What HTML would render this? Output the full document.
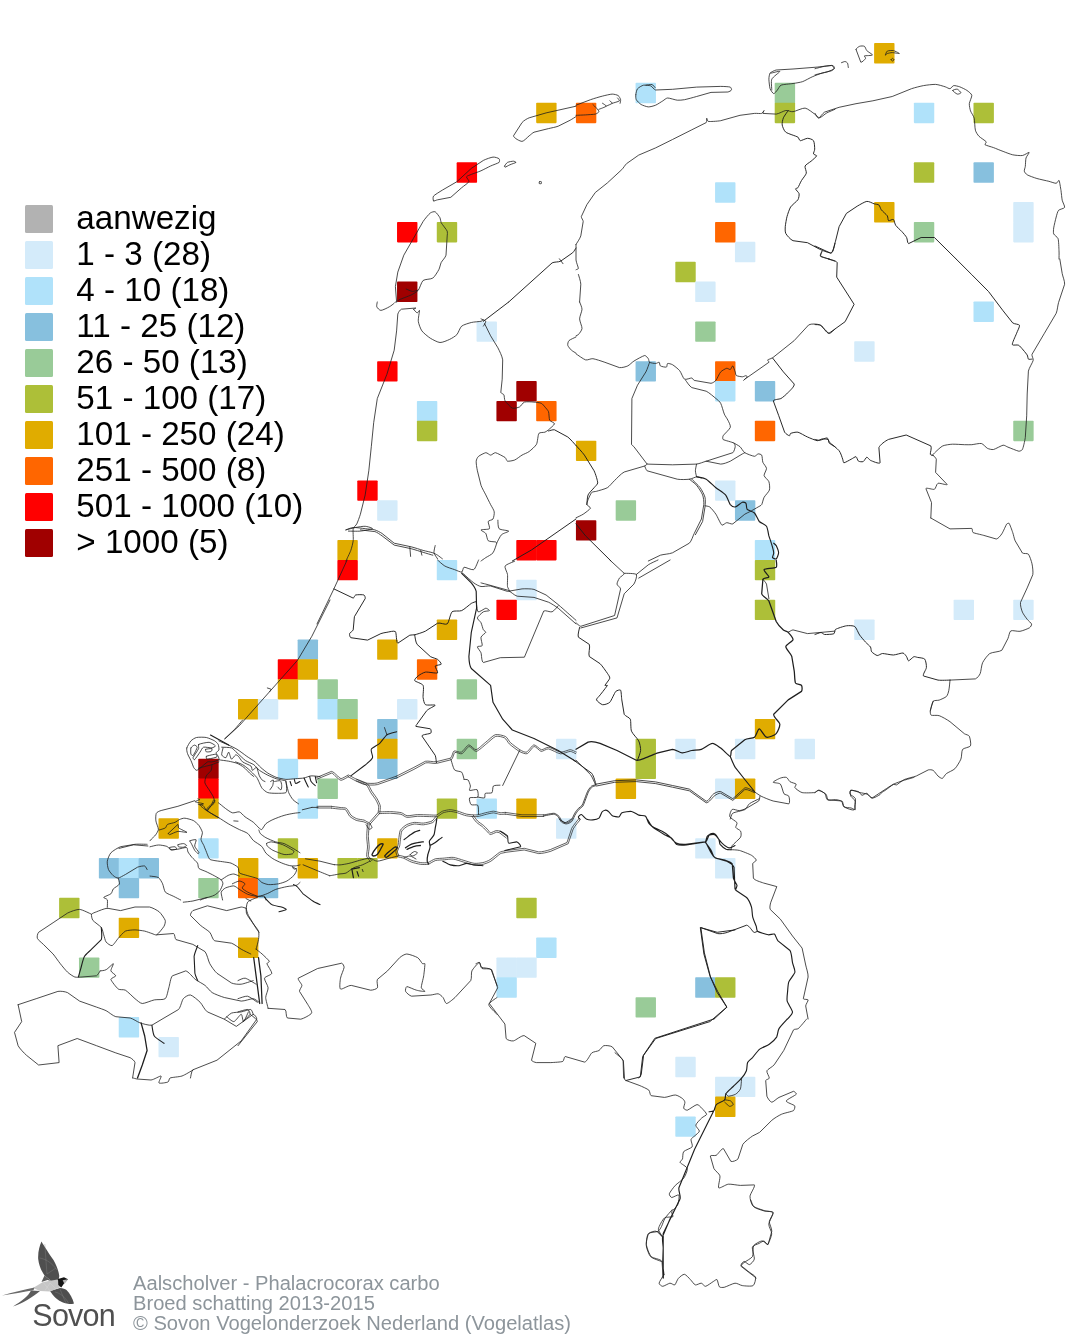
<!DOCTYPE html>
<html><head><meta charset="utf-8"><title>Aalscholver - Phalacrocorax carbo</title>
<style>
html,body{margin:0;padding:0;background:#fff}
body{width:1074px;height:1340px;overflow:hidden;position:relative;font-family:"Liberation Sans",Arial,sans-serif}
svg{position:absolute;left:0;top:0;display:block}
.leg text{font-family:"Liberation Sans",Arial,sans-serif;font-size:33.2px;fill:#000}
.foot text{font-family:"Liberation Sans",Arial,sans-serif;font-size:20.15px;fill:#8d959b}
.sovon{font-family:"Liberation Sans",Arial,sans-serif;font-size:30.5px;fill:#505050;letter-spacing:-0.75px}
</style></head><body>
<svg width="1074" height="1340" viewBox="0 0 1074 1340">
<rect width="1074" height="1340" fill="#fff"/>
<g>
<rect x="874.10" y="43.10" width="20.4" height="20.4" rx="0.8" fill="#e0ac00"/>
<rect x="635.56" y="82.85" width="20.4" height="20.4" rx="0.8" fill="#b0e2fa"/>
<rect x="774.71" y="82.85" width="20.4" height="20.4" rx="0.8" fill="#99cb98"/>
<rect x="536.17" y="102.73" width="20.4" height="20.4" rx="0.8" fill="#e0ac00"/>
<rect x="575.93" y="102.73" width="20.4" height="20.4" rx="0.8" fill="#ff6600"/>
<rect x="774.71" y="102.73" width="20.4" height="20.4" rx="0.8" fill="#adbf38"/>
<rect x="913.85" y="102.73" width="20.4" height="20.4" rx="0.8" fill="#b0e2fa"/>
<rect x="973.49" y="102.73" width="20.4" height="20.4" rx="0.8" fill="#adbf38"/>
<rect x="456.66" y="162.36" width="20.4" height="20.4" rx="0.8" fill="#ff0000"/>
<rect x="913.85" y="162.36" width="20.4" height="20.4" rx="0.8" fill="#adbf38"/>
<rect x="973.49" y="162.36" width="20.4" height="20.4" rx="0.8" fill="#87c0de"/>
<rect x="715.07" y="182.24" width="20.4" height="20.4" rx="0.8" fill="#b0e2fa"/>
<rect x="874.10" y="202.12" width="20.4" height="20.4" rx="0.8" fill="#e0ac00"/>
<rect x="1013.24" y="202.12" width="20.4" height="20.4" rx="0.8" fill="#d4ebfa"/>
<rect x="397.03" y="221.99" width="20.4" height="20.4" rx="0.8" fill="#ff0000"/>
<rect x="436.78" y="221.99" width="20.4" height="20.4" rx="0.8" fill="#adbf38"/>
<rect x="715.07" y="221.99" width="20.4" height="20.4" rx="0.8" fill="#ff6600"/>
<rect x="913.85" y="221.99" width="20.4" height="20.4" rx="0.8" fill="#99cb98"/>
<rect x="1013.24" y="221.99" width="20.4" height="20.4" rx="0.8" fill="#d4ebfa"/>
<rect x="734.95" y="241.87" width="20.4" height="20.4" rx="0.8" fill="#d4ebfa"/>
<rect x="675.32" y="261.75" width="20.4" height="20.4" rx="0.8" fill="#adbf38"/>
<rect x="397.03" y="281.62" width="20.4" height="20.4" rx="0.8" fill="#a00000"/>
<rect x="695.20" y="281.62" width="20.4" height="20.4" rx="0.8" fill="#d4ebfa"/>
<rect x="973.49" y="301.50" width="20.4" height="20.4" rx="0.8" fill="#b0e2fa"/>
<rect x="476.54" y="321.38" width="20.4" height="20.4" rx="0.8" fill="#d4ebfa"/>
<rect x="695.20" y="321.38" width="20.4" height="20.4" rx="0.8" fill="#99cb98"/>
<rect x="854.22" y="341.25" width="20.4" height="20.4" rx="0.8" fill="#d4ebfa"/>
<rect x="377.15" y="361.13" width="20.4" height="20.4" rx="0.8" fill="#ff0000"/>
<rect x="635.56" y="361.13" width="20.4" height="20.4" rx="0.8" fill="#87c0de"/>
<rect x="715.07" y="361.13" width="20.4" height="20.4" rx="0.8" fill="#ff6600"/>
<rect x="516.29" y="381.01" width="20.4" height="20.4" rx="0.8" fill="#a00000"/>
<rect x="715.07" y="381.01" width="20.4" height="20.4" rx="0.8" fill="#b0e2fa"/>
<rect x="754.83" y="381.01" width="20.4" height="20.4" rx="0.8" fill="#87c0de"/>
<rect x="416.90" y="400.89" width="20.4" height="20.4" rx="0.8" fill="#b0e2fa"/>
<rect x="496.42" y="400.89" width="20.4" height="20.4" rx="0.8" fill="#a00000"/>
<rect x="536.17" y="400.89" width="20.4" height="20.4" rx="0.8" fill="#ff6600"/>
<rect x="416.90" y="420.76" width="20.4" height="20.4" rx="0.8" fill="#adbf38"/>
<rect x="754.83" y="420.76" width="20.4" height="20.4" rx="0.8" fill="#ff6600"/>
<rect x="1013.24" y="420.76" width="20.4" height="20.4" rx="0.8" fill="#99cb98"/>
<rect x="575.93" y="440.64" width="20.4" height="20.4" rx="0.8" fill="#e0ac00"/>
<rect x="357.27" y="480.39" width="20.4" height="20.4" rx="0.8" fill="#ff0000"/>
<rect x="715.07" y="480.39" width="20.4" height="20.4" rx="0.8" fill="#d4ebfa"/>
<rect x="377.15" y="500.27" width="20.4" height="20.4" rx="0.8" fill="#d4ebfa"/>
<rect x="615.68" y="500.27" width="20.4" height="20.4" rx="0.8" fill="#99cb98"/>
<rect x="734.95" y="500.27" width="20.4" height="20.4" rx="0.8" fill="#87c0de"/>
<rect x="575.93" y="520.15" width="20.4" height="20.4" rx="0.8" fill="#a00000"/>
<rect x="337.39" y="540.02" width="20.4" height="20.4" rx="0.8" fill="#e0ac00"/>
<rect x="516.29" y="540.02" width="20.4" height="20.4" rx="0.8" fill="#ff0000"/>
<rect x="536.17" y="540.02" width="20.4" height="20.4" rx="0.8" fill="#ff0000"/>
<rect x="754.83" y="540.02" width="20.4" height="20.4" rx="0.8" fill="#b0e2fa"/>
<rect x="337.39" y="559.90" width="20.4" height="20.4" rx="0.8" fill="#ff0000"/>
<rect x="436.78" y="559.90" width="20.4" height="20.4" rx="0.8" fill="#b0e2fa"/>
<rect x="754.83" y="559.90" width="20.4" height="20.4" rx="0.8" fill="#adbf38"/>
<rect x="516.29" y="579.78" width="20.4" height="20.4" rx="0.8" fill="#d4ebfa"/>
<rect x="496.42" y="599.66" width="20.4" height="20.4" rx="0.8" fill="#ff0000"/>
<rect x="754.83" y="599.66" width="20.4" height="20.4" rx="0.8" fill="#adbf38"/>
<rect x="953.61" y="599.66" width="20.4" height="20.4" rx="0.8" fill="#d4ebfa"/>
<rect x="1013.24" y="599.66" width="20.4" height="20.4" rx="0.8" fill="#d4ebfa"/>
<rect x="436.78" y="619.53" width="20.4" height="20.4" rx="0.8" fill="#e0ac00"/>
<rect x="854.22" y="619.53" width="20.4" height="20.4" rx="0.8" fill="#d4ebfa"/>
<rect x="297.64" y="639.41" width="20.4" height="20.4" rx="0.8" fill="#87c0de"/>
<rect x="377.15" y="639.41" width="20.4" height="20.4" rx="0.8" fill="#e0ac00"/>
<rect x="277.76" y="659.29" width="20.4" height="20.4" rx="0.8" fill="#ff0000"/>
<rect x="297.64" y="659.29" width="20.4" height="20.4" rx="0.8" fill="#e0ac00"/>
<rect x="416.90" y="659.29" width="20.4" height="20.4" rx="0.8" fill="#ff6600"/>
<rect x="277.76" y="679.16" width="20.4" height="20.4" rx="0.8" fill="#e0ac00"/>
<rect x="317.51" y="679.16" width="20.4" height="20.4" rx="0.8" fill="#99cb98"/>
<rect x="456.66" y="679.16" width="20.4" height="20.4" rx="0.8" fill="#99cb98"/>
<rect x="238.00" y="699.04" width="20.4" height="20.4" rx="0.8" fill="#e0ac00"/>
<rect x="257.88" y="699.04" width="20.4" height="20.4" rx="0.8" fill="#d4ebfa"/>
<rect x="317.51" y="699.04" width="20.4" height="20.4" rx="0.8" fill="#b0e2fa"/>
<rect x="337.39" y="699.04" width="20.4" height="20.4" rx="0.8" fill="#99cb98"/>
<rect x="397.03" y="699.04" width="20.4" height="20.4" rx="0.8" fill="#d4ebfa"/>
<rect x="337.39" y="718.92" width="20.4" height="20.4" rx="0.8" fill="#e0ac00"/>
<rect x="377.15" y="718.92" width="20.4" height="20.4" rx="0.8" fill="#87c0de"/>
<rect x="754.83" y="718.92" width="20.4" height="20.4" rx="0.8" fill="#e0ac00"/>
<rect x="297.64" y="738.79" width="20.4" height="20.4" rx="0.8" fill="#ff6600"/>
<rect x="377.15" y="738.79" width="20.4" height="20.4" rx="0.8" fill="#e0ac00"/>
<rect x="456.66" y="738.79" width="20.4" height="20.4" rx="0.8" fill="#99cb98"/>
<rect x="556.05" y="738.79" width="20.4" height="20.4" rx="0.8" fill="#d4ebfa"/>
<rect x="635.56" y="738.79" width="20.4" height="20.4" rx="0.8" fill="#adbf38"/>
<rect x="675.32" y="738.79" width="20.4" height="20.4" rx="0.8" fill="#d4ebfa"/>
<rect x="734.95" y="738.79" width="20.4" height="20.4" rx="0.8" fill="#d4ebfa"/>
<rect x="794.59" y="738.79" width="20.4" height="20.4" rx="0.8" fill="#d4ebfa"/>
<rect x="198.25" y="758.67" width="20.4" height="20.4" rx="0.8" fill="#a00000"/>
<rect x="277.76" y="758.67" width="20.4" height="20.4" rx="0.8" fill="#b0e2fa"/>
<rect x="377.15" y="758.67" width="20.4" height="20.4" rx="0.8" fill="#87c0de"/>
<rect x="635.56" y="758.67" width="20.4" height="20.4" rx="0.8" fill="#adbf38"/>
<rect x="198.25" y="778.55" width="20.4" height="20.4" rx="0.8" fill="#ff0000"/>
<rect x="317.51" y="778.55" width="20.4" height="20.4" rx="0.8" fill="#99cb98"/>
<rect x="615.68" y="778.55" width="20.4" height="20.4" rx="0.8" fill="#e0ac00"/>
<rect x="715.07" y="778.55" width="20.4" height="20.4" rx="0.8" fill="#d4ebfa"/>
<rect x="734.95" y="778.55" width="20.4" height="20.4" rx="0.8" fill="#e0ac00"/>
<rect x="198.25" y="798.43" width="20.4" height="20.4" rx="0.8" fill="#e0ac00"/>
<rect x="297.64" y="798.43" width="20.4" height="20.4" rx="0.8" fill="#b0e2fa"/>
<rect x="436.78" y="798.43" width="20.4" height="20.4" rx="0.8" fill="#adbf38"/>
<rect x="476.54" y="798.43" width="20.4" height="20.4" rx="0.8" fill="#b0e2fa"/>
<rect x="516.29" y="798.43" width="20.4" height="20.4" rx="0.8" fill="#e0ac00"/>
<rect x="158.49" y="818.30" width="20.4" height="20.4" rx="0.8" fill="#e0ac00"/>
<rect x="556.05" y="818.30" width="20.4" height="20.4" rx="0.8" fill="#d4ebfa"/>
<rect x="198.25" y="838.18" width="20.4" height="20.4" rx="0.8" fill="#b0e2fa"/>
<rect x="277.76" y="838.18" width="20.4" height="20.4" rx="0.8" fill="#adbf38"/>
<rect x="377.15" y="838.18" width="20.4" height="20.4" rx="0.8" fill="#e0ac00"/>
<rect x="695.20" y="838.18" width="20.4" height="20.4" rx="0.8" fill="#d4ebfa"/>
<rect x="98.86" y="858.06" width="20.4" height="20.4" rx="0.8" fill="#87c0de"/>
<rect x="118.73" y="858.06" width="20.4" height="20.4" rx="0.8" fill="#b0e2fa"/>
<rect x="138.61" y="858.06" width="20.4" height="20.4" rx="0.8" fill="#87c0de"/>
<rect x="238.00" y="858.06" width="20.4" height="20.4" rx="0.8" fill="#e0ac00"/>
<rect x="297.64" y="858.06" width="20.4" height="20.4" rx="0.8" fill="#e0ac00"/>
<rect x="337.39" y="858.06" width="20.4" height="20.4" rx="0.8" fill="#adbf38"/>
<rect x="357.27" y="858.06" width="20.4" height="20.4" rx="0.8" fill="#adbf38"/>
<rect x="715.07" y="858.06" width="20.4" height="20.4" rx="0.8" fill="#d4ebfa"/>
<rect x="118.73" y="877.93" width="20.4" height="20.4" rx="0.8" fill="#87c0de"/>
<rect x="198.25" y="877.93" width="20.4" height="20.4" rx="0.8" fill="#99cb98"/>
<rect x="238.00" y="877.93" width="20.4" height="20.4" rx="0.8" fill="#ff6600"/>
<rect x="257.88" y="877.93" width="20.4" height="20.4" rx="0.8" fill="#87c0de"/>
<rect x="59.10" y="897.81" width="20.4" height="20.4" rx="0.8" fill="#adbf38"/>
<rect x="516.29" y="897.81" width="20.4" height="20.4" rx="0.8" fill="#adbf38"/>
<rect x="118.73" y="917.69" width="20.4" height="20.4" rx="0.8" fill="#e0ac00"/>
<rect x="238.00" y="937.56" width="20.4" height="20.4" rx="0.8" fill="#e0ac00"/>
<rect x="536.17" y="937.56" width="20.4" height="20.4" rx="0.8" fill="#b0e2fa"/>
<rect x="78.98" y="957.44" width="20.4" height="20.4" rx="0.8" fill="#99cb98"/>
<rect x="496.42" y="957.44" width="20.4" height="20.4" rx="0.8" fill="#d4ebfa"/>
<rect x="516.29" y="957.44" width="20.4" height="20.4" rx="0.8" fill="#d4ebfa"/>
<rect x="496.42" y="977.32" width="20.4" height="20.4" rx="0.8" fill="#b0e2fa"/>
<rect x="695.20" y="977.32" width="20.4" height="20.4" rx="0.8" fill="#87c0de"/>
<rect x="715.07" y="977.32" width="20.4" height="20.4" rx="0.8" fill="#adbf38"/>
<rect x="635.56" y="997.20" width="20.4" height="20.4" rx="0.8" fill="#99cb98"/>
<rect x="118.73" y="1017.07" width="20.4" height="20.4" rx="0.8" fill="#b0e2fa"/>
<rect x="158.49" y="1036.95" width="20.4" height="20.4" rx="0.8" fill="#d4ebfa"/>
<rect x="675.32" y="1056.83" width="20.4" height="20.4" rx="0.8" fill="#d4ebfa"/>
<rect x="715.07" y="1076.70" width="20.4" height="20.4" rx="0.8" fill="#d4ebfa"/>
<rect x="734.95" y="1076.70" width="20.4" height="20.4" rx="0.8" fill="#d4ebfa"/>
<rect x="715.07" y="1096.58" width="20.4" height="20.4" rx="0.8" fill="#e0ac00"/>
<rect x="675.32" y="1116.46" width="20.4" height="20.4" rx="0.8" fill="#b0e2fa"/>
</g>
<path d="M317.3 779.0L331.6 773.1C332.9 773.1 334.7 775.7 335.8 776.5C336.9 777.4 339.6 780.3 341.1 780.3C342.6 780.3 347.8 777.0 348.7 776.6M316.7 777.5L331.4 771.4C333.1 771.4 335.7 774.3 336.8 775.2C337.9 776.0 339.8 778.6 341.1 778.6C342.4 778.6 347.2 775.5 348.0 775.1M397.0 777.8L413.9 769.4L425.7 762.9C428.4 762.2 433.5 763.8 436.5 763.4L451.3 759.7C453.1 758.5 453.6 753.2 454.9 752.5C456.1 751.8 460.4 754.4 462.0 753.7C463.7 753.0 467.4 746.8 469.1 746.5C470.7 746.3 474.3 751.7 476.3 751.4C478.3 751.1 484.1 745.7 486.3 743.9C488.6 742.2 493.6 737.1 495.7 736.4C497.9 735.7 503.1 737.1 504.7 738.0C506.3 738.9 507.8 742.4 509.3 743.9C511.0 745.5 517.1 750.1 519.1 751.3C521.2 752.4 525.3 754.3 527.1 753.7C528.8 753.2 532.5 746.8 534.2 746.5C535.8 746.2 539.5 751.1 541.1 751.4C542.8 751.6 546.3 748.7 548.4 748.9C550.7 749.2 557.9 753.5 560.5 753.8C563.0 754.1 568.4 751.4 570.2 751.4C571.9 751.4 575.0 753.4 575.7 753.7M396.2 776.3L413.1 767.8L425.3 761.3C428.0 760.6 433.3 762.1 436.3 761.7L450.4 758.2C452.2 757.0 452.8 751.7 454.0 751.0C455.3 750.3 459.6 752.9 461.4 752.1C463.1 751.4 467.1 745.1 468.8 744.9C470.5 744.6 474.1 749.9 476.0 749.7C478.0 749.4 483.1 744.3 485.3 742.6C487.5 740.9 492.8 735.5 495.2 734.7C497.6 734.0 503.7 735.6 505.5 736.5C507.3 737.4 508.8 741.1 510.5 742.7C512.2 744.2 518.1 748.7 520.0 749.8C521.7 750.8 524.9 752.7 526.5 752.1C528.2 751.5 532.2 745.1 533.9 744.9C535.6 744.6 539.7 749.4 541.4 749.7C543.1 750.0 546.5 747.0 548.6 747.3C550.9 747.5 558.1 751.8 560.7 752.1C563.2 752.4 568.4 749.7 570.2 749.7C572.0 749.7 575.6 751.9 576.3 752.1M317.0 808.0L331.5 808.0M317.0 806.3L331.5 806.3M505.0 814.1L521.9 816.5L543.7 816.5M505.2 812.4L522.0 814.8L543.7 814.8M505.0 852.4L524.2 850.0L538.7 853.6C541.8 853.7 547.6 852.3 551.0 851.2L568.2 843.7L573.2 829.0C574.6 826.2 579.5 820.6 580.4 819.5M504.8 850.7L524.3 848.3L538.7 851.9C541.8 852.1 547.2 850.6 550.5 849.5L567.0 842.5L571.7 828.3C573.1 825.5 578.2 819.6 579.0 818.5M356.1 780.8C357.2 781.3 364.6 783.8 366.3 785.1C368.0 786.5 369.5 790.7 370.6 792.4C371.7 794.1 374.8 798.2 375.8 799.8C376.7 801.4 378.4 804.8 378.6 806.2C378.9 807.7 378.2 811.3 378.2 812.0M356.7 779.2C358.0 779.8 365.6 782.4 367.3 783.8C369.1 785.2 370.8 789.7 372.0 791.5C373.2 793.2 376.3 797.3 377.2 798.9C378.2 800.6 380.0 804.4 380.3 805.9C380.6 807.4 379.9 811.4 379.9 812.1M379.1 813.6C380.4 813.6 388.1 813.2 390.6 813.3C393.2 813.4 399.0 813.9 400.9 814.3C402.8 814.8 405.1 817.1 406.9 817.3C408.9 817.6 414.9 816.4 417.5 816.3C420.1 816.2 427.1 816.6 429.4 816.6C431.6 816.6 435.5 817.0 437.1 816.6C438.7 816.1 441.6 813.4 443.1 812.8C444.6 812.2 448.6 811.4 450.2 811.4C451.9 811.4 455.6 812.3 457.5 812.8C459.4 813.4 464.2 815.4 466.5 815.8C468.8 816.3 474.8 816.8 477.1 816.6C479.4 816.4 484.3 814.8 486.2 814.3C488.1 813.9 491.8 812.9 493.4 812.9C495.0 812.9 498.5 814.2 499.9 814.4C501.3 814.5 504.8 814.1 505.4 814.1M379.0 811.9C380.4 811.9 388.1 811.5 390.7 811.6C393.3 811.7 399.4 812.2 401.3 812.7C403.1 813.2 405.3 815.4 407.1 815.7C409.0 815.9 414.8 814.7 417.4 814.6C420.0 814.5 427.2 814.9 429.4 814.9C431.5 814.9 435.1 815.4 436.6 814.9C438.1 814.5 440.9 811.8 442.5 811.2C444.1 810.6 448.4 809.7 450.2 809.7C452.0 809.7 456.0 810.7 457.9 811.2C459.8 811.7 464.6 813.7 466.8 814.2C469.0 814.6 474.8 815.1 477.0 814.9C479.2 814.7 483.9 813.1 485.8 812.7C487.7 812.3 491.8 811.2 493.4 811.2C495.1 811.2 498.7 812.5 500.1 812.7C501.5 812.8 504.7 812.4 505.3 812.4M331.4 808.1C332.4 808.2 338.3 809.0 339.9 809.1C341.5 809.3 344.3 808.9 345.5 809.7C346.6 810.6 348.6 815.1 349.8 816.4C351.1 817.6 354.5 819.6 356.1 820.3C357.7 820.9 362.0 821.4 363.6 821.8C365.3 822.2 368.6 824.6 370.2 824.0L379.7 813.3M331.6 806.4C332.6 806.5 338.4 807.2 340.1 807.5C341.8 807.7 345.2 807.5 346.5 808.4C347.7 809.3 349.8 813.9 351.0 815.2C352.2 816.4 355.2 818.1 356.7 818.7C358.2 819.3 362.6 819.7 364.1 820.1C365.5 820.6 368.1 822.9 369.4 822.5L378.4 812.2M367.5 824.6C367.4 826.0 366.7 834.0 366.7 836.6C366.7 839.2 367.5 844.8 367.5 847.0C367.5 849.3 366.4 854.4 366.7 856.2C367.1 857.9 370.1 861.0 370.6 861.7M369.2 824.7C369.1 826.1 368.4 834.0 368.4 836.6C368.4 839.2 369.2 844.8 369.2 847.0C369.2 849.3 368.1 854.2 368.4 855.8C368.7 857.4 371.6 860.1 372.0 860.7M436.2 815.9C435.7 816.5 433.4 820.1 432.0 821.0C430.5 821.8 425.4 822.9 423.4 823.1C421.3 823.3 416.4 822.2 414.4 822.4C412.5 822.5 408.3 823.8 406.6 824.7C405.0 825.6 401.2 828.5 400.3 830.3C399.4 832.0 399.0 837.7 398.7 839.5C398.5 841.2 398.4 843.9 398.0 845.3C397.7 846.7 395.8 850.2 395.8 851.4C395.7 852.7 397.1 855.7 397.3 856.2M437.5 817.1C436.9 817.7 434.4 821.6 432.8 822.5C431.1 823.4 425.6 824.6 423.5 824.8C421.4 825.0 416.4 823.9 414.6 824.0C412.7 824.2 408.9 825.4 407.5 826.2C406.0 827.0 402.7 829.5 401.8 831.0C401.0 832.6 400.7 838.0 400.4 839.7C400.2 841.4 400.0 844.4 399.7 845.8C399.3 847.1 397.5 850.4 397.5 851.6C397.4 852.7 398.7 855.2 398.9 855.7M397.9 856.8C398.6 857.0 402.2 857.7 403.8 858.3C405.3 858.9 409.3 861.3 411.2 862.0C413.2 862.7 418.4 864.0 420.3 864.3C422.3 864.5 426.3 864.7 428.1 864.3C429.9 863.8 433.7 861.0 435.6 860.5C437.5 860.0 442.3 860.0 444.4 859.8C446.4 859.6 450.9 858.8 453.1 859.1C455.3 859.3 461.0 861.3 463.4 862.0C465.8 862.7 471.7 864.8 474.0 865.0C476.3 865.3 481.2 864.7 483.2 864.3C485.2 863.8 488.9 862.4 490.9 861.2C492.9 859.9 498.8 854.7 500.4 853.7C501.6 853.1 504.3 852.8 504.8 852.6M398.3 855.2C399.0 855.3 402.8 856.1 404.4 856.7C405.9 857.3 409.9 859.7 411.8 860.4C413.7 861.1 418.7 862.3 420.6 862.6C422.4 862.8 426.0 863.0 427.7 862.6C429.4 862.2 433.2 859.4 435.1 858.9C437.0 858.4 442.1 858.3 444.2 858.1C446.3 857.9 451.0 857.1 453.3 857.4C455.6 857.6 461.5 859.7 463.9 860.4C466.3 861.1 472.0 863.1 474.2 863.3C476.4 863.6 481.0 863.0 482.8 862.6C484.7 862.2 488.1 860.9 490.0 859.7C492.0 858.5 497.9 853.3 499.6 852.3C500.8 851.6 503.8 851.1 504.4 851.0M471.9 816.3C472.4 817.0 475.2 821.1 476.5 822.3C477.7 823.5 481.2 825.8 482.5 826.8C483.7 827.9 486.0 830.4 486.9 831.3C487.8 832.1 489.3 834.4 490.4 834.5C491.5 834.6 495.5 832.4 496.6 832.2C497.4 832.1 498.8 832.5 499.6 832.9C500.7 833.6 505.5 837.4 506.3 838.0M473.3 815.2C473.8 815.9 476.5 819.9 477.7 821.1C478.9 822.3 482.4 824.5 483.6 825.5C484.8 826.6 487.3 829.2 488.1 830.1C488.8 830.8 489.7 832.7 490.5 832.8C491.5 832.8 495.1 830.7 496.3 830.6C497.4 830.4 499.4 830.9 500.4 831.4C501.7 832.1 506.6 836.1 507.4 836.7M347.9 776.5C348.8 777.0 353.6 779.8 355.6 780.8C357.6 781.7 362.5 784.2 365.1 784.6C367.6 785.1 374.0 785.4 377.5 784.6L396.9 777.8M348.7 775.1C349.6 775.5 354.4 778.3 356.4 779.2C358.3 780.2 362.9 782.5 365.3 783.0C367.8 783.4 373.8 783.7 377.1 783.0L396.3 776.2" fill="none" stroke="#1e1e1e" stroke-width="0.7" stroke-linejoin="round" stroke-linecap="round"/>
<path d="M433.5 201.0C433.0 200.5 432.8 197.2 433.5 196.1C434.5 194.9 439.7 191.8 442.4 190.1L456.9 181.7L471.3 168.4L483.4 160.4C485.9 159.1 491.2 157.3 493.0 157.1C494.8 156.9 498.4 158.1 499.1 158.8C499.7 159.3 499.7 161.7 499.1 162.4C498.1 163.2 492.7 165.0 490.6 166.0C488.5 167.0 483.2 169.8 481.0 170.8C478.7 171.8 473.0 173.7 471.3 174.4C469.9 175.0 466.8 176.0 466.5 176.8C466.2 177.7 469.4 180.5 468.9 181.7C468.4 182.9 463.8 185.9 461.7 187.7L450.8 197.3L437.6 199.8C436.4 200.0 434.0 201.4 433.5 201.0M396.6 302.0L395.4 286.6L397.8 272.1L403.8 255.2L413.5 238.3L423.1 221.5C424.9 218.8 428.9 214.1 430.3 213.0C431.5 212.2 434.1 211.3 435.2 211.8C436.3 212.4 439.3 216.6 440.0 217.8C440.7 219.1 440.5 221.4 441.2 222.7C442.0 224.2 446.5 229.6 447.2 231.1C447.7 232.4 447.3 234.5 447.2 235.9L446.0 255.2C445.4 257.6 442.0 260.8 441.2 262.5C440.4 264.1 439.8 267.9 438.8 269.7C437.8 271.5 434.6 276.9 432.8 278.1C430.9 279.4 424.8 279.1 423.1 280.5C421.4 281.9 419.7 288.5 418.3 290.2C416.9 291.9 413.3 293.9 411.1 295.0C408.8 296.1 400.7 299.0 399.0 299.8C398.2 300.3 396.9 302.3 396.6 302.0M406.2 289.0C406.9 289.3 410.9 291.2 412.3 291.4C413.6 291.5 417.2 290.3 417.8 290.2M576.0 106.2L546.1 112.9L529.2 117.8C526.9 118.7 523.6 120.7 522.0 122.6L513.5 135.8C513.6 138.0 520.2 141.4 522.0 141.4C523.8 141.4 527.8 136.9 529.2 135.8C530.6 134.8 532.5 132.9 534.0 132.2L548.5 128.6C551.3 127.9 555.6 127.2 558.2 126.2L570.2 120.2C572.0 119.2 575.3 117.0 576.0 116.6M504.6 166.0C504.9 165.4 506.5 162.9 507.5 162.4C508.6 161.8 512.6 161.2 513.5 161.2C514.3 161.2 516.1 162.1 516.0 162.4C515.5 162.8 511.2 164.2 509.9 164.8C508.7 165.3 505.7 167.1 505.1 167.2C504.8 167.2 504.5 166.3 504.6 166.0M539.3 181.7C539.6 181.4 541.0 181.4 541.3 181.7C541.5 181.9 541.5 183.4 541.3 183.6C541.0 183.8 539.6 183.8 539.3 183.6C539.1 183.4 539.1 181.9 539.3 181.7M559.4 258.8L563.0 263.7M576.0 105.2L590.5 99.7C593.6 98.6 600.0 96.7 602.5 96.1C605.1 95.4 610.3 94.2 612.2 94.1C613.9 94.1 617.2 94.9 618.2 95.6C619.2 96.2 620.4 98.8 620.6 99.7C620.8 100.6 620.2 102.9 620.1 103.3M576.0 115.3C577.1 115.3 583.4 115.0 585.6 114.9C587.9 114.7 593.7 114.5 595.3 114.1C596.5 113.8 598.8 112.4 598.9 111.7C599.1 111.0 597.2 109.0 596.5 108.1C595.8 107.3 593.3 104.9 592.9 104.5M598.9 109.3C599.8 109.0 605.7 106.9 606.1 106.2C606.5 105.5 602.9 103.6 602.5 103.3M606.1 106.2C606.8 105.8 611.8 103.9 612.2 103.3C612.4 102.7 610.0 101.2 609.8 100.9M612.2 103.3C613.0 103.0 618.8 101.5 619.4 100.9C619.8 100.3 617.7 98.3 617.5 98.0M635.8 94.8C635.9 93.6 636.6 89.9 637.5 88.8C638.4 87.7 642.0 85.5 643.5 85.2C645.1 84.9 649.4 85.4 650.8 85.9C652.2 86.5 653.9 89.6 655.6 90.0L672.5 89.3L696.6 87.1L720.7 86.4C723.5 86.4 729.1 86.7 730.3 87.1C731.0 87.5 731.8 89.5 731.5 90.0C731.3 90.6 729.1 91.7 727.9 92.0L711.0 92.4L696.6 96.5C693.5 97.4 686.8 99.2 684.5 99.7C682.4 100.0 679.3 100.4 677.3 100.2C675.3 100.0 669.3 97.9 667.6 98.0C666.1 98.1 664.2 100.0 662.8 100.9C661.4 101.7 657.3 104.5 655.6 105.2C653.9 105.9 650.0 107.0 648.3 106.9C646.7 106.8 642.5 105.3 641.1 104.5C639.7 103.7 636.9 100.8 636.3 99.7C635.7 98.5 635.7 96.1 635.8 94.8M645.9 85.2C646.6 85.1 650.9 84.2 652.0 84.5C653.0 84.8 654.7 87.2 655.1 87.6M770.1 73.1C771.0 72.1 774.3 70.4 776.2 70.0L793.0 69.0L817.2 67.1L831.6 65.4C832.6 65.7 834.0 67.7 834.0 68.3C834.0 68.9 832.5 70.3 831.6 70.7C830.2 71.3 824.2 72.4 822.0 73.1C819.7 73.8 814.6 75.8 812.3 76.8C810.1 77.7 804.9 80.8 802.7 81.6C800.4 82.4 795.6 83.1 793.0 83.5C790.5 83.9 782.8 84.4 781.0 85.2C779.5 85.9 778.2 89.0 777.4 90.0C776.5 91.0 774.6 93.8 773.7 93.6C772.9 93.5 770.7 90.4 770.1 88.8C769.6 87.1 768.9 81.0 768.9 79.2C768.9 77.4 769.3 74.2 770.1 73.1M771.3 73.1C772.3 72.9 779.7 70.8 779.8 71.5C779.8 72.2 772.7 77.0 771.8 79.2C770.9 81.3 771.8 88.8 771.8 90.0M576.0 244.4C576.6 243.4 580.0 238.6 580.8 235.9L583.2 221.5C583.2 220.0 581.2 218.0 581.3 216.6L586.9 204.6L595.3 192.5L607.4 182.9L621.8 169.6C623.4 168.0 625.0 165.1 626.6 163.6L638.7 155.1L655.6 147.9L672.5 139.5L691.8 129.8L706.2 122.6C707.0 121.7 706.5 118.4 706.7 118.2C706.9 118.1 707.4 121.0 708.2 121.4C709.8 121.7 717.1 121.3 720.7 120.7L740.0 115.3L754.5 113.4C756.6 113.2 760.6 113.8 761.7 113.4C762.6 113.1 764.0 110.5 764.1 110.5C764.2 110.5 762.5 113.0 762.9 113.4L776.2 114.1C778.8 113.8 783.8 110.8 785.8 110.5C787.8 110.2 791.0 112.0 793.0 111.7C795.3 111.4 802.6 107.8 805.1 108.1C807.6 108.4 813.1 113.0 814.7 114.1C816.2 115.1 818.2 117.9 819.6 117.8C821.0 117.6 825.0 113.9 826.8 112.9C828.6 112.0 834.0 109.7 835.0 109.3M822.0 251.6C821.8 252.2 820.1 255.6 820.8 256.4L835.0 261.2M576.0 244.4L576.0 260.0C576.3 262.6 578.4 267.4 578.4 268.5C578.3 269.1 576.3 269.5 576.0 269.7M578.4 274.5C578.7 275.6 580.7 281.3 580.8 284.2L579.6 302.0M815.0 68.7C816.1 68.4 822.5 66.7 824.6 66.3C826.8 66.0 832.0 65.3 833.1 65.6C833.8 65.9 834.7 68.1 834.3 68.7C833.6 69.5 829.2 71.2 827.1 71.9C824.8 72.6 816.4 74.4 815.0 74.8M841.5 62.7C841.9 62.6 844.4 61.4 845.1 61.5C845.8 61.6 847.2 62.5 847.6 63.2C847.9 63.9 848.2 67.0 848.3 67.5M856.0 49.4C856.1 48.3 858.6 46.7 859.6 46.3C860.6 45.9 863.6 45.8 864.4 46.3C865.3 46.8 865.9 49.6 866.8 50.6C867.8 51.7 872.7 54.4 872.4 55.0C872.1 55.6 865.2 55.6 864.4 55.9C864.1 56.3 865.9 57.8 865.6 58.4C865.2 59.1 861.8 62.8 860.8 62.2L856.0 49.4M885.4 55.0C885.4 54.7 886.4 51.6 887.3 51.1C888.3 50.6 892.0 50.4 893.4 50.6C894.8 50.9 899.5 53.3 899.4 53.5C899.3 53.8 893.6 52.6 892.2 52.6C890.8 52.6 888.1 53.3 887.3 53.5C886.7 53.8 885.5 55.2 885.4 55.0M891.0 59.6C891.0 59.3 892.3 58.3 892.7 58.4C893.0 58.4 894.1 59.5 894.1 59.8C894.1 60.1 892.8 61.0 892.4 61.0C892.0 61.0 890.9 59.9 891.0 59.6M815.0 113.3C815.4 113.9 817.5 118.3 818.6 118.2C819.7 118.0 822.5 113.3 824.6 112.1L839.1 107.3L856.0 103.7L872.9 100.8L892.2 96.5L911.5 88.7C914.9 87.6 920.7 86.1 923.5 85.6C926.3 85.1 933.0 84.3 935.6 84.4C938.1 84.5 943.5 86.3 945.2 86.8C946.7 87.3 949.1 88.9 950.0 88.7C951.0 88.6 952.5 85.8 953.7 85.6C954.8 85.4 958.1 86.3 959.7 86.8C961.2 87.4 965.5 89.4 966.9 90.4C968.3 91.4 971.5 93.7 971.8 95.3C972.0 96.8 969.5 101.9 969.3 103.7C969.2 105.5 970.0 109.2 970.5 110.9C971.1 112.6 973.6 115.9 974.2 118.2C974.7 120.4 974.8 128.1 975.4 130.2C975.9 132.2 977.7 134.9 979.0 136.3C980.3 137.6 985.5 140.8 986.2 141.8C986.5 142.5 984.6 144.2 985.0 144.7C985.9 145.4 991.3 146.8 993.5 147.6C995.6 148.4 1000.8 150.6 1003.1 151.4C1005.4 152.3 1010.5 154.3 1012.7 154.8C1015.0 155.3 1020.5 155.8 1022.4 155.5C1024.3 155.3 1028.7 152.1 1029.1 152.4C1029.6 152.7 1026.5 156.3 1026.0 158.0C1025.6 159.6 1025.5 164.8 1025.3 166.4C1025.1 167.8 1024.1 170.2 1024.3 171.2C1024.5 172.2 1026.1 174.1 1027.2 174.8C1028.7 175.7 1034.3 177.7 1036.9 178.5C1039.4 179.2 1046.7 180.8 1048.9 181.3C1051.0 181.9 1055.0 183.4 1056.2 183.3C1057.2 183.1 1058.6 180.0 1059.0 180.4C1059.6 181.2 1060.6 188.2 1061.0 190.5C1061.3 192.8 1061.8 198.2 1062.2 200.2C1062.6 202.1 1065.0 206.2 1064.6 207.4C1064.2 208.6 1059.6 209.2 1058.6 210.3C1057.6 211.4 1056.7 215.0 1056.2 217.0C1055.6 219.1 1054.0 225.9 1053.7 227.9C1053.5 229.6 1053.2 232.7 1053.7 233.9C1054.2 235.2 1057.5 237.0 1058.1 238.7C1058.7 240.7 1058.9 248.4 1059.0 250.8C1059.2 253.2 1059.0 258.0 1059.0 259.0M952.5 90.4C952.5 89.9 956.3 88.9 957.3 89.2C958.3 89.5 960.9 92.3 960.9 92.8C960.9 93.4 958.2 94.3 957.3 94.1C956.3 93.8 952.5 91.0 952.5 90.4M822.2 250.8C822.0 251.4 819.6 255.2 820.3 256.1C821.1 257.1 828.4 258.7 829.5 259.0M1059.8 259.0L1062.2 273.5C1062.7 276.4 1064.9 281.2 1064.6 284.3L1058.6 302.4C1057.7 305.5 1057.4 310.3 1056.2 313.3L1044.1 333.8L1032.0 354.3C1031.6 355.9 1033.5 358.6 1033.2 360.3C1032.8 362.3 1029.1 367.8 1028.4 371.1L1027.2 394.0L1026.7 415.8L1025.3 437.5C1024.8 441.0 1023.2 447.9 1022.4 449.5C1021.8 450.4 1019.9 451.3 1018.8 451.2C1017.1 450.9 1009.8 447.8 1007.9 447.1C1006.5 446.6 1004.5 445.0 1003.1 445.2C1001.4 445.5 995.3 449.1 993.5 449.5C991.8 449.8 988.8 449.0 987.4 448.3C986.0 447.6 983.2 443.9 981.4 443.5C979.6 443.1 973.7 444.5 971.8 444.7C969.8 444.8 966.6 444.7 964.5 444.7C962.3 444.6 955.0 444.1 952.5 444.2C949.9 444.3 944.8 445.0 942.8 445.9C940.8 446.8 936.8 450.8 935.6 451.9C934.5 452.9 932.4 455.1 932.0 455.5M933.2 455.5C933.5 456.0 936.0 457.9 936.3 459.2L935.6 472.4L947.2 484.5C947.2 485.5 939.5 482.7 938.0 483.3C936.5 483.8 935.8 488.7 934.4 489.3C933.0 489.9 926.4 487.3 925.9 488.6L931.5 502.6L930.8 518.0M930.8 518.0L950.0 528.9L971.8 528.4C972.6 528.8 972.1 531.8 973.0 532.5C974.4 533.3 981.1 534.6 983.8 535.4L996.3 539.0C998.3 538.7 1000.7 535.4 1001.9 533.7C1003.1 531.9 1005.9 525.2 1006.7 524.0C1007.2 523.6 1008.7 523.0 1009.1 523.3C1009.8 524.3 1012.0 530.4 1012.7 532.5C1013.5 534.5 1014.1 538.6 1015.2 540.9L1022.4 553.0C1023.6 554.0 1027.3 553.0 1028.4 554.2C1029.5 555.4 1031.5 561.4 1032.0 563.8C1032.5 566.2 1033.3 571.9 1032.8 574.7L1027.2 587.9L1020.5 602.4C1020.0 605.1 1021.6 610.1 1022.4 612.1C1023.2 614.0 1026.1 617.9 1027.2 619.3C1028.3 620.7 1031.3 623.1 1031.6 624.1C1031.8 625.1 1030.5 627.1 1029.6 627.7C1028.3 628.6 1022.2 631.0 1020.0 631.3C1017.8 631.7 1012.2 630.0 1010.8 630.9C1009.4 631.7 1008.9 636.4 1007.9 638.6L1001.9 650.2C999.8 651.9 992.1 652.1 989.8 653.5C987.6 655.0 983.7 660.4 982.6 662.7C981.5 665.0 981.0 671.7 980.2 673.5C979.4 675.4 977.2 678.2 975.4 678.9L950.0 680.1M950.0 680.1C949.9 681.3 949.3 688.5 948.8 690.4C948.4 692.3 947.6 695.3 946.4 696.5C945.3 697.6 940.7 699.5 939.2 700.1C937.6 700.6 934.2 700.1 933.2 701.3C932.1 702.5 930.6 709.8 930.3 710.9M933.2 701.2C932.8 702.3 930.5 709.2 930.3 710.9C930.2 712.1 930.3 714.6 931.2 715.2C932.3 715.8 937.0 714.9 939.2 715.7C941.4 716.4 947.1 719.6 950.0 721.7L964.5 733.8C965.8 734.6 968.7 735.0 969.3 736.2C970.0 737.6 971.3 744.3 970.5 745.8C969.8 747.4 963.7 747.9 962.6 749.4C961.5 751.0 961.8 756.8 960.9 759.1C960.0 761.3 956.6 767.0 954.9 768.7C953.2 770.4 947.9 772.4 946.4 773.6C945.0 774.7 943.3 778.1 942.3 778.4C941.3 778.7 939.1 776.9 938.0 776.0C936.9 775.0 934.3 771.1 933.2 770.4C932.0 769.7 929.7 769.6 928.3 769.9L916.3 776.0C913.5 777.1 906.5 778.5 904.2 779.6C901.9 780.6 897.8 784.3 896.5 784.9C895.7 785.1 894.2 784.1 893.4 784.4C892.2 785.0 887.5 788.7 886.1 789.7C884.8 790.7 882.0 792.3 881.3 792.8C880.9 793.2 880.6 794.2 880.1 794.5C879.1 795.2 873.9 798.3 872.4 798.1C870.8 798.0 868.1 793.7 866.8 793.3C865.6 793.0 863.0 795.5 862.0 795.3C861.0 795.1 859.7 792.2 858.4 791.6C857.1 791.1 851.7 790.2 850.7 790.4C850.0 790.8 849.6 793.2 850.0 794.1C850.5 795.0 854.7 797.0 855.3 798.4C855.8 799.8 854.8 804.8 854.8 806.1C854.8 807.2 855.7 809.5 855.3 809.7C854.9 810.0 852.4 808.4 851.2 808.0C849.9 807.7 845.1 807.6 843.9 806.8C842.8 806.0 842.5 802.1 841.5 801.3C840.5 800.4 837.0 799.7 835.5 799.6C834.0 799.5 829.4 800.7 828.3 800.1C827.1 799.4 827.0 795.2 825.9 794.1C824.7 792.9 819.9 790.6 818.6 790.4C817.5 790.4 815.4 792.6 815.0 792.8M579.6 302.0C579.9 302.8 582.0 307.3 582.0 309.2C582.0 311.2 579.6 316.6 579.6 318.9C579.6 321.1 582.2 326.7 582.0 328.5C581.9 330.4 579.1 333.7 578.4 334.6C577.9 335.1 576.3 335.6 576.0 335.8M576.0 353.8C577.1 354.6 583.7 359.3 585.6 359.9C587.6 360.4 590.8 358.4 592.9 358.7C595.1 359.0 601.8 361.2 604.9 362.3L619.4 367.6C621.8 367.9 626.2 366.7 627.8 365.9C629.5 365.1 632.0 362.3 633.9 361.1C635.8 359.9 643.0 355.8 644.7 355.5C645.9 355.5 647.8 357.9 648.3 358.7C648.9 359.5 648.8 361.7 649.6 362.3C650.4 362.9 654.5 363.5 655.6 363.5C656.7 363.5 658.6 362.0 659.2 362.3C659.8 362.6 659.6 365.4 660.4 365.9C661.2 366.5 665.6 367.4 666.4 367.1C667.2 366.8 666.9 363.8 667.6 363.5C668.3 363.2 671.2 364.0 672.5 364.7C673.9 365.5 678.3 369.0 679.7 370.7C681.1 372.4 683.1 378.3 684.5 379.2C685.9 380.0 690.6 377.8 691.8 378.0C692.6 378.1 693.3 380.0 694.2 380.4L711.0 383.3C712.6 383.1 714.8 381.6 715.9 380.4C717.0 379.1 719.4 373.3 720.7 371.9C722.0 370.5 725.6 368.6 726.7 368.3C727.7 368.1 729.6 369.8 730.3 369.5C731.0 369.2 732.2 365.6 732.8 365.9C733.3 366.2 734.7 370.8 735.2 371.9C735.6 373.0 735.6 375.0 736.4 375.6C737.2 376.1 741.3 376.8 742.4 376.8C743.5 376.7 745.5 375.6 746.0 375.6C746.4 375.6 747.3 376.4 747.2 376.8C746.9 377.3 743.9 380.1 743.6 380.4C743.5 380.4 744.4 379.5 744.8 379.2L768.9 362.3C769.2 361.7 767.4 360.3 767.7 359.9C768.1 359.4 771.3 358.7 772.5 357.9L794.2 340.6L808.7 324.9C811.3 323.5 817.2 323.9 819.6 324.9C822.0 325.9 827.4 332.9 829.2 333.4C830.8 333.7 834.3 329.5 835.0 329.0M649.6 362.3C649.1 363.4 647.3 369.3 645.9 371.9L637.5 385.2L631.9 398.5L631.5 444.3C631.7 445.2 633.2 445.9 633.9 446.7L647.1 464.1L672.5 464.8L696.6 464.1C699.5 463.7 703.4 462.0 706.2 461.2L732.8 452.7C734.1 451.7 735.0 447.8 735.2 446.7C735.3 445.7 734.7 443.7 734.0 443.1C732.5 442.2 724.4 440.3 723.1 439.5C722.5 438.8 722.7 436.7 723.1 435.8C723.9 434.4 729.8 429.2 730.3 427.4C730.9 425.6 728.6 421.7 727.9 420.2C727.2 418.6 725.1 416.0 724.3 414.1C723.5 412.2 721.7 405.1 720.7 403.3C719.8 401.6 717.4 399.7 715.9 398.5C714.2 397.1 709.0 392.5 706.2 391.2L691.8 387.6C689.5 386.4 686.4 381.2 685.7 380.4M734.0 443.1C734.7 443.5 738.7 445.6 740.0 446.7C741.3 447.8 743.1 451.6 744.8 452.7C746.5 453.8 752.9 456.2 754.5 456.3C755.6 456.3 757.2 454.1 758.1 453.9C758.9 453.8 761.2 454.3 761.7 455.1C762.3 456.1 762.3 460.8 762.9 462.4C763.5 463.9 766.4 466.8 766.5 468.4C766.7 469.9 763.8 474.1 764.1 475.6C764.4 477.2 768.3 480.0 768.9 481.7C769.5 483.3 770.0 488.3 769.4 490.1C768.8 491.9 765.0 495.6 764.1 497.3C763.2 499.0 762.4 503.4 761.7 504.6C761.0 505.6 759.2 506.3 758.1 507.0C756.7 507.8 751.2 511.0 749.6 511.8C748.2 512.6 746.1 513.3 744.8 514.2L732.8 523.9C731.2 524.4 728.0 522.5 726.7 522.7C725.5 522.8 722.9 525.6 721.9 525.1C720.6 524.1 717.3 516.3 715.9 514.2C714.5 512.1 711.1 508.0 709.8 507.0C708.7 506.2 705.6 505.9 705.0 505.8M647.1 464.1C646.9 464.3 645.5 465.6 644.7 466.0L624.2 472.0C621.0 473.6 616.6 478.6 614.6 480.5C612.6 482.3 609.5 486.4 607.4 487.7C605.2 489.0 598.3 490.7 596.5 491.3C595.1 491.7 592.6 491.6 591.7 492.5C590.7 493.5 588.6 498.3 588.1 499.7C587.5 501.1 586.6 503.6 586.9 504.6C587.1 505.6 590.7 507.2 590.5 508.2C590.0 509.3 584.9 513.1 583.2 514.2C581.5 515.3 576.8 517.4 576.0 517.8M644.7 466.0C645.0 466.5 646.0 470.0 647.1 470.8L677.3 479.2C680.7 479.8 687.1 479.5 689.3 479.2C691.5 479.0 695.2 477.0 696.6 476.8C698.0 476.7 700.8 477.9 701.4 478.0M696.6 464.1C696.4 464.8 695.4 469.3 695.4 470.8C695.4 472.3 696.4 476.1 696.6 476.8M706.2 461.2L720.7 464.1C723.5 464.1 727.8 462.3 730.3 461.2L742.4 453.9C743.1 453.5 744.5 452.9 744.8 452.7M689.3 479.2C690.2 480.0 695.0 483.4 696.6 485.3C698.1 487.1 701.8 492.7 702.6 494.9C703.5 497.2 704.0 501.8 703.8 504.6L701.4 519.0L694.2 533.5C692.8 536.3 691.5 541.1 689.3 543.2L672.5 552.8C669.2 554.1 663.2 554.3 660.4 555.2L648.3 561.0M691.8 479.2C692.7 480.2 698.6 485.6 700.2 487.7C701.7 489.8 704.5 495.1 705.0 497.3C705.6 499.6 705.3 504.2 705.0 507.0L702.6 521.5L695.4 534.7M377.3 302.0C377.2 302.6 376.4 305.8 376.8 306.8C377.2 307.8 379.5 310.4 380.9 310.4C382.4 310.4 387.8 307.7 389.3 306.8C390.9 306.0 393.5 303.8 394.2 303.2C394.5 302.9 395.2 302.1 395.4 302.0M413.5 309.2C413.7 309.1 416.1 308.1 415.9 308.0L401.4 309.2C399.9 309.9 398.3 312.4 397.8 314.1L396.6 330.9L394.2 350.2L386.9 374.3L377.3 398.5L373.7 422.6L371.3 446.7L368.8 470.8L365.2 494.9L360.4 514.2C359.5 517.1 357.6 522.2 356.8 523.9C356.0 525.4 353.6 527.1 353.2 528.7C352.8 530.7 353.5 538.2 353.2 540.7C352.9 543.3 351.6 548.0 350.8 550.4C349.9 552.8 346.5 559.8 345.9 561.0M413.5 309.2C413.9 309.7 416.4 312.7 417.1 312.9C417.8 313.0 419.3 310.1 419.5 310.4C419.6 311.4 418.0 318.9 418.3 321.3C418.6 323.7 420.5 329.0 421.9 330.9C423.3 332.9 428.2 336.8 430.3 338.2C432.5 339.5 437.7 342.4 440.0 342.5C442.2 342.7 447.7 340.3 449.6 339.4C451.6 338.5 455.5 336.1 456.9 334.6C458.3 333.0 460.0 327.5 461.7 326.1C463.4 324.7 469.1 323.1 471.3 322.5C473.6 321.9 479.6 321.6 481.0 321.3C481.7 321.1 483.1 320.2 483.4 320.1M481.0 318.9C481.5 319.2 485.5 320.4 485.8 321.3C486.1 322.1 483.7 325.6 483.4 326.1M484.6 323.7L490.6 335.8L497.9 347.8C499.3 350.6 502.2 356.2 502.7 359.9L502.2 379.2L500.8 392.4C501.1 393.4 503.4 393.9 503.9 394.8C504.4 395.8 504.2 399.4 505.1 400.9C506.1 402.4 510.6 407.4 512.3 408.1C514.0 408.8 518.2 407.6 519.6 406.9C521.0 406.2 522.7 402.6 524.4 402.1C526.1 401.5 532.1 401.9 534.0 402.1C536.0 402.2 540.0 402.7 541.3 403.3C542.5 403.8 544.0 405.9 544.9 406.9C545.7 407.9 547.9 410.2 548.5 411.7C549.1 413.3 549.0 418.8 549.7 420.2C550.4 421.6 554.7 422.7 554.5 423.8C554.4 424.9 549.6 428.8 548.5 429.8C547.5 430.6 546.0 431.8 544.9 432.2C543.8 432.6 539.8 432.2 538.9 433.4C537.9 434.8 537.6 442.2 536.5 444.3C535.3 446.4 530.9 450.2 529.2 451.5C527.5 452.8 523.7 454.1 522.0 455.1C520.3 456.1 516.4 459.3 514.7 460.0C513.1 460.7 508.6 461.4 507.5 461.2C506.5 460.9 506.1 458.3 505.1 457.5C503.7 456.6 497.1 453.0 495.5 452.7C494.0 452.6 491.8 455.1 490.6 455.1C489.5 455.1 487.2 452.6 485.8 452.7C484.4 452.9 479.7 455.4 478.6 456.3C477.4 457.3 476.3 459.7 476.2 461.2C476.0 462.9 476.8 468.0 477.4 470.8L481.0 485.3C482.0 488.1 484.7 492.7 485.8 494.9C486.9 497.2 489.6 502.6 490.6 504.6C491.6 506.5 494.0 510.1 494.2 511.8C494.5 513.5 493.7 517.9 493.0 519.0C492.3 520.2 488.6 520.3 488.2 521.5C487.8 522.6 490.3 527.7 489.4 528.7C488.6 529.7 481.4 529.3 481.0 529.9C480.6 530.5 485.0 532.2 485.8 533.5C486.7 534.8 487.1 539.8 488.2 540.7C489.3 541.7 494.5 541.7 495.5 541.9C495.9 542.1 496.6 542.7 496.7 543.2C496.4 544.4 494.3 551.1 493.0 552.8C491.8 554.5 487.2 556.7 485.8 557.6C484.4 558.6 481.5 560.6 481.0 561.0M497.9 520.2C498.0 521.2 497.8 527.4 499.1 528.7C500.3 530.0 508.4 530.4 508.7 531.1C509.0 531.8 502.9 533.3 501.5 534.7C500.1 536.1 497.2 542.2 496.7 543.2M576.0 337.0C575.2 337.4 570.0 339.6 569.0 340.6C568.1 341.5 567.5 344.3 567.8 345.4C568.1 346.5 570.5 349.3 571.4 350.2C572.4 351.1 575.5 352.8 576.0 353.1M345.9 529.9C346.8 529.6 351.0 527.6 353.2 527.5C355.4 527.3 362.7 528.4 365.2 528.7C367.8 529.0 372.9 529.3 374.9 529.9C376.8 530.5 380.2 532.2 382.1 533.5L394.2 543.2L411.1 546.8C414.4 547.6 420.6 549.7 423.1 550.4C425.6 551.1 431.1 552.2 432.8 552.8C434.2 553.3 436.5 554.5 437.6 555.2C438.7 555.9 441.8 558.4 442.4 558.8M360.4 529.9L374.9 531.6C377.2 532.3 380.1 534.5 382.1 535.9L394.2 545.1L411.1 548.7C414.4 549.5 420.6 551.6 423.1 552.3C425.6 553.1 431.6 554.9 432.8 555.2M409.8 546.8L410.6 556.4M420.7 550.4L421.9 555.2M435.2 545.6C435.0 546.4 433.7 551.3 434.0 552.8C434.2 554.3 437.2 558.1 437.6 558.8M345.9 529.9C347.1 529.6 353.3 527.9 355.6 527.5C357.8 527.1 363.3 526.1 365.2 526.3C367.2 526.4 372.9 528.1 372.5 528.7C371.9 529.2 363.2 530.8 360.4 531.1C357.6 531.4 349.8 531.1 348.4 531.1M347.1 560.0L333.9 588.9L317.0 623.9M437.6 560.0C438.4 560.7 442.8 564.9 444.8 566.0C446.8 567.2 452.5 568.9 454.5 569.6C456.4 570.3 460.6 572.3 461.7 572.1C462.8 571.8 462.9 567.6 464.1 567.2C465.5 567.0 472.1 570.5 473.8 569.6C475.4 568.8 478.0 561.1 478.6 560.0M461.7 572.1C462.0 572.3 463.4 573.8 464.1 574.5C465.5 575.7 471.8 581.5 473.8 582.9C475.7 584.3 479.0 586.2 481.0 586.5C483.0 586.9 487.9 585.6 490.6 586.0L507.5 591.4L522.0 588.9C525.1 588.7 531.2 588.7 534.0 589.4L546.1 595.0L558.2 604.6C560.7 606.7 565.7 611.2 567.8 613.1C569.9 614.9 575.0 619.4 576.0 620.3M481.0 582.9C481.5 583.1 484.4 583.7 485.8 584.1L507.5 590.1C510.6 591.4 514.1 595.3 517.2 596.2L534.0 597.4L548.5 602.2C551.3 603.5 555.5 606.2 558.2 608.2L576.0 623.9M514.7 561.2C513.6 561.8 505.9 564.5 505.1 566.0C504.3 567.6 507.2 572.1 507.5 574.5C507.8 576.9 507.2 584.6 507.5 586.5C507.8 588.0 509.6 590.8 509.9 591.4M476.2 601.5C476.4 602.7 477.0 611.1 478.1 611.8C479.2 612.6 484.5 608.4 485.8 608.2C486.9 608.2 489.7 610.2 489.4 610.6C489.1 611.1 484.8 611.0 483.4 611.8C482.0 612.7 477.6 616.6 477.4 617.9C477.1 619.1 480.3 621.3 481.0 622.7C481.7 624.1 482.8 628.8 483.4 629.9C483.9 630.8 485.9 631.6 485.8 632.3C485.5 633.2 481.4 635.6 481.0 637.2C480.6 638.7 482.6 644.5 482.2 645.6C481.8 646.6 477.5 646.0 477.4 646.8C477.2 647.7 480.3 651.0 481.0 652.8C481.7 654.7 481.4 661.8 483.4 662.5L500.3 657.7L524.4 657.2L543.7 611.1C545.2 609.8 550.4 612.5 552.1 611.8C553.8 611.2 557.5 606.5 558.2 605.8M384.5 727.6L386.9 734.8M450.8 759.0C451.3 760.2 453.2 768.3 454.5 769.8C455.7 771.4 460.6 771.1 461.7 772.2C462.8 773.3 463.8 778.6 464.1 779.5M519.6 750.5L502.7 785.5M609.8 560.0L624.2 573.3C624.5 574.6 620.3 576.8 619.4 578.1C618.6 579.4 616.9 582.8 617.0 584.1C617.1 585.4 620.4 587.3 620.6 588.9L614.6 615.5L580.8 626.3C579.3 626.2 576.6 623.1 576.0 622.7M624.2 573.3C625.6 573.4 635.2 573.2 636.3 574.5C637.4 575.7 635.3 581.9 633.9 584.1L624.2 593.8L617.0 617.9L580.8 628.0M636.3 574.5L648.3 564.8C650.9 563.1 656.9 560.6 658.0 560.0M638.7 578.1L670.1 560.0M762.9 579.3C763.3 579.9 765.9 582.5 766.5 584.1L768.9 598.6M788.2 632.3C788.8 632.1 791.6 630.0 793.0 629.9L807.5 633.6L822.0 632.3L835.0 631.1M595.3 784.3L614.6 780.7L636.3 779.9L655.6 781.9L672.5 785.5L689.3 789.1L706.2 801.2C708.5 801.4 711.8 795.0 713.5 793.9C715.1 792.8 718.7 791.1 720.7 791.5L732.8 798.7L744.8 787.9C747.3 787.1 753.3 791.1 754.5 791.5M596.5 786.0L614.6 782.3L636.3 781.6L655.6 783.6L672.5 787.2L689.3 790.8L706.2 802.8C708.8 803.1 713.0 796.7 714.7 795.6C716.2 794.6 719.0 792.9 720.7 793.2L732.8 800.4L744.8 789.6C747.3 788.8 753.3 792.3 754.5 792.7M576.0 760.2L590.5 774.6C592.4 777.1 594.7 783.1 595.3 784.3M730.3 819.0C730.6 818.3 731.4 814.2 732.8 813.2C734.4 812.1 742.8 810.7 744.8 809.6C746.7 808.5 747.9 804.8 749.6 803.6C751.3 802.3 758.2 799.3 759.3 798.7M330.0 600.0L311.9 636.2L297.5 660.3L278.2 682.0L258.9 703.7L239.6 725.4L225.1 738.7M267.3 688.0C267.7 688.2 270.6 688.8 270.9 689.2C271.2 689.6 269.9 691.4 269.7 691.6M311.9 807.4L318.0 807.4M302.3 809.8L311.9 807.4M119.0 848.4L133.5 844.8L147.9 846.0M147.1 844.3C145.7 844.3 138.1 844.0 135.0 844.3L120.6 846.7C117.8 847.7 112.5 851.1 110.9 852.8C109.4 854.4 107.6 859.2 107.3 861.2C107.0 863.2 107.8 868.0 108.5 869.6C109.2 871.3 112.2 874.7 113.3 875.7C114.5 876.7 116.8 878.2 118.2 878.1C119.6 877.9 123.3 875.6 125.4 874.5L137.5 867.2C139.4 866.4 143.6 865.7 144.7 866.0C145.7 866.3 146.8 869.2 147.1 869.6M183.3 902.2C184.4 902.1 190.1 901.5 192.9 901.0L207.4 897.4M118.2 878.1C118.3 878.8 119.9 882.8 119.4 884.1C118.8 885.4 114.3 887.8 113.3 888.9C112.4 890.1 112.1 892.8 110.9 893.8C109.8 894.7 104.1 896.7 103.7 897.4C103.4 898.0 106.9 898.7 107.3 899.8C107.7 900.9 107.3 906.2 107.3 907.0M107.3 908.2C104.5 908.4 98.3 911.1 96.5 911.8C95.0 912.4 92.1 913.3 91.6 914.3C91.2 915.2 91.9 918.9 92.8 920.3C94.0 921.8 100.0 925.8 101.3 927.5C102.6 929.2 103.1 933.1 103.7 934.8C104.3 936.4 105.1 940.7 106.1 942.0C107.1 943.3 110.7 946.0 112.1 945.6C113.5 945.2 116.6 940.1 118.2 938.4C119.7 936.7 123.4 932.1 125.4 931.1C127.4 930.2 132.8 929.9 135.0 929.9C137.3 929.9 142.7 930.7 144.7 931.1C146.7 931.6 150.5 933.1 151.9 933.5C153.3 934.0 155.6 935.3 156.8 934.8C158.2 933.9 163.0 928.0 164.0 926.3C164.8 924.8 165.7 921.9 165.2 920.3C164.6 918.6 161.0 913.4 159.2 911.8C157.3 910.3 152.3 907.6 149.5 907.0L135.0 907.0L120.6 910.6L107.3 908.2M91.6 914.3C90.2 913.7 82.4 909.6 79.6 909.4C76.8 909.3 70.6 911.5 67.5 913.1L53.1 922.7L38.6 932.3C37.5 933.6 36.8 937.0 37.4 938.4C37.9 939.8 41.6 942.6 43.4 944.4L53.1 954.0C55.0 956.3 58.6 961.6 60.3 963.7C62.0 965.8 65.8 970.6 67.5 972.1C69.2 973.7 73.1 976.4 74.8 977.0C76.4 977.5 79.9 977.1 82.0 977.0L96.5 975.8C97.9 975.1 99.7 971.5 100.1 970.9M100.1 970.9C100.8 970.8 104.6 970.6 106.1 969.7C107.7 968.9 112.8 963.6 113.3 963.7C113.9 963.8 110.6 969.5 110.9 970.9C111.2 972.3 115.8 974.8 115.8 975.8C115.8 976.7 110.9 978.1 110.9 979.4C111.2 980.9 116.5 987.7 118.2 989.0C119.8 990.2 123.6 989.2 125.4 990.2C127.4 991.3 133.1 997.1 135.0 998.7C137.0 1000.2 140.0 1003.3 142.3 1003.5C144.5 1003.6 151.7 1000.4 154.3 999.9C157.0 999.3 163.5 1000.1 165.2 998.7C166.9 997.3 168.0 990.5 168.8 987.8C169.7 985.1 170.5 977.7 172.4 975.8L185.7 970.9C188.4 971.3 193.1 977.7 195.3 979.4C197.6 981.1 203.0 983.8 205.0 985.4C207.0 986.9 210.0 991.2 212.2 992.6C214.5 994.0 220.9 996.5 224.3 997.5L241.2 1001.1C244.5 1001.2 251.1 998.5 253.2 998.7C255.1 998.8 258.3 1001.9 259.0 1002.3M156.8 934.8L173.6 933.5C175.0 934.2 174.7 938.6 176.0 939.6L192.9 944.4L205.0 951.6C207.0 953.9 208.4 961.2 209.8 963.7C211.2 966.2 214.5 971.1 217.0 973.3L231.5 983.0C234.0 984.1 238.6 984.5 241.2 984.2C243.7 983.9 251.8 981.0 253.2 980.6M246.0 908.2C245.4 908.1 242.6 907.0 241.2 907.0L226.7 910.6L207.4 905.8L192.9 910.6C191.7 911.5 190.1 914.2 190.5 915.5L200.2 925.1C202.4 927.1 208.1 930.5 209.8 932.3C211.5 934.2 212.4 939.6 214.6 940.8L231.5 943.2C234.6 944.2 238.9 948.0 241.2 949.2C243.4 950.5 249.7 953.5 250.8 954.0M246.0 898.6L250.8 901.0M18.1 1004.7L36.2 998.7L57.9 991.4C60.6 991.0 65.0 991.5 67.5 992.6L79.6 1001.1L96.5 1007.1C99.3 1008.1 103.9 1009.6 106.1 1010.7C108.4 1011.8 112.9 1015.9 115.8 1016.7L130.2 1018.0C133.0 1018.7 137.3 1021.9 139.9 1022.8C142.4 1023.6 149.1 1025.7 151.9 1025.2L164.0 1018.0L178.5 1009.5C180.7 1007.3 181.9 1000.3 183.3 998.7C184.7 997.0 188.5 994.6 190.5 995.0C192.5 995.5 198.2 1000.3 200.2 1002.3C202.1 1004.2 204.6 1010.0 207.4 1011.9L224.3 1019.2L236.3 1026.4L253.2 1014.3C254.5 1014.3 257.0 1017.7 256.8 1019.2L241.2 1040.9L217.0 1060.2L192.9 1069.8C191.3 1071.3 190.8 1077.0 190.5 1078.0M18.1 1004.7L21.7 1021.6L14.5 1032.4L18.1 1045.7C19.5 1048.4 24.1 1053.1 26.5 1055.3L38.6 1065.0L59.1 1062.6L57.9 1045.7L77.2 1038.5L96.5 1045.7L115.8 1052.9L130.2 1057.7C131.9 1058.7 134.7 1060.8 135.0 1062.6L132.6 1078.0M224.3 1019.2C225.1 1018.5 229.5 1014.0 231.5 1013.1C233.5 1012.3 238.9 1012.3 241.2 1011.9C243.4 1011.5 249.4 1009.2 250.8 1009.5C252.0 1009.8 252.9 1013.8 253.2 1014.3M226.7 1016.7C227.5 1017.3 232.2 1021.9 233.9 1021.6C235.6 1021.3 240.0 1014.3 241.2 1014.3C242.3 1014.3 242.7 1021.9 243.6 1021.6C244.4 1021.3 247.8 1013.0 248.4 1011.9M246.0 908.2C246.3 909.1 247.4 913.5 248.4 915.5L255.6 927.5C256.5 929.0 258.6 931.8 259.0 932.3M305.5 858.8L320.0 861.2L334.5 864.8M303.1 864.8L317.6 870.8C320.7 872.1 328.2 875.1 329.6 875.7M257.3 897.4C256.2 897.9 248.9 900.4 247.6 902.2C246.4 904.0 245.9 910.7 246.4 913.1C247.0 915.4 251.1 920.6 252.5 922.7C253.9 924.8 257.8 929.2 258.5 931.1C259.2 933.1 258.8 937.5 258.5 939.6C258.2 941.7 256.4 948.1 256.1 949.2M256.1 949.2C256.8 949.8 260.6 952.6 262.1 954.0C263.7 955.5 268.8 960.2 269.4 961.3C269.5 962.0 267.0 962.9 266.9 963.7C267.2 965.1 272.0 971.7 271.8 973.3C271.5 975.0 264.9 976.5 264.5 978.2C264.1 979.9 268.0 985.6 268.1 987.8C268.3 990.1 265.7 995.1 265.7 997.5C265.7 999.8 267.9 1007.0 268.1 1008.3M268.1 1008.3L285.0 1009.5C286.8 1010.6 285.6 1016.8 287.4 1018.0L300.7 1019.2C303.5 1018.6 310.7 1014.8 311.6 1013.1C312.4 1011.4 309.2 1007.0 307.9 1004.7L299.5 991.4C299.2 989.8 302.0 986.9 301.9 985.4C301.8 983.8 297.4 979.6 298.3 978.2L317.6 968.5L341.7 963.2C342.8 963.5 344.1 966.0 344.1 967.3C344.0 969.1 340.9 975.6 340.5 978.2C340.1 980.7 339.2 988.2 340.5 989.0C341.8 989.9 348.1 985.3 351.3 985.4L370.6 990.2C372.6 990.2 376.6 989.1 377.4 987.8C378.2 986.5 376.3 981.3 377.4 979.4L387.5 970.9L399.6 957.7C401.4 956.2 404.7 954.0 406.8 954.0C408.9 954.0 415.8 956.5 417.7 957.7C419.5 958.8 421.6 963.0 422.5 963.7C423.0 964.0 424.7 963.3 424.9 963.7C425.0 965.1 424.1 972.9 423.7 975.8C423.3 978.6 421.1 986.0 421.3 987.8C421.5 989.1 425.4 991.1 424.9 991.4C424.3 991.7 418.6 990.8 416.5 990.2C414.3 989.7 408.1 986.5 406.8 986.6C405.9 986.9 405.1 990.3 405.6 991.4C406.2 992.6 409.6 995.8 411.6 996.2L430.9 995.0C433.0 994.8 436.8 993.6 438.2 993.8C439.6 994.1 442.0 996.3 443.0 997.5C444.0 998.6 445.2 1003.5 446.6 1003.5C448.0 1003.5 452.8 999.5 455.0 997.5L470.7 980.6C472.0 978.2 470.9 973.0 471.9 970.9C472.9 968.8 478.0 962.9 479.2 962.5C480.1 962.3 480.4 966.5 481.6 967.3C483.0 968.2 489.5 967.8 491.2 969.7L497.0 985.4M497.0 997.5C496.0 998.3 488.8 1002.7 488.8 1004.7C488.8 1006.7 496.0 1013.2 497.0 1014.3M238.0 980.6C238.8 980.3 243.2 977.8 245.2 978.2C247.3 978.6 254.8 983.5 256.1 984.2M238.0 998.7C239.1 998.4 245.4 995.8 247.6 996.2C249.9 996.7 256.2 1001.6 257.3 1002.3M238.0 1011.9C239.1 1011.6 246.2 1009.2 247.6 1009.5C248.8 1009.8 250.4 1013.1 250.1 1014.3C249.5 1015.7 243.7 1020.7 242.8 1021.6M250.1 1014.3C250.9 1015.2 257.6 1019.3 257.3 1021.6L238.0 1045.7M559.2 819.0C559.9 819.4 563.8 822.6 565.2 822.6C566.6 822.6 570.6 819.4 571.3 819.0M476.0 963.7C476.4 963.6 478.9 962.0 479.6 962.5C480.3 963.0 480.6 967.7 482.0 968.5C483.4 969.4 490.0 968.0 491.7 969.7L497.7 987.8L489.3 1003.5L504.9 1024.0L506.1 1038.5C507.1 1040.1 511.3 1041.2 513.4 1040.9C515.5 1040.5 521.6 1035.3 524.2 1035.6L535.8 1043.3L531.5 1060.2C531.8 1061.3 534.8 1062.3 536.3 1062.6L550.8 1062.6C553.9 1062.4 561.1 1062.1 562.8 1061.4C564.0 1060.7 564.0 1056.8 565.2 1056.5L584.5 1062.1C587.3 1061.6 590.1 1054.3 591.8 1052.9C593.4 1051.6 597.6 1051.4 599.0 1050.5C600.4 1049.7 602.3 1046.1 603.8 1045.7C605.4 1045.3 610.3 1045.6 612.3 1046.9L623.1 1060.2L623.6 1078.0M753.9 791.4C754.7 791.9 758.9 795.0 761.1 796.2C763.4 797.3 769.9 800.1 773.2 801.0L788.8 803.9C790.2 803.2 789.4 797.4 788.8 796.2C788.3 795.0 784.9 794.9 784.0 793.8C783.0 792.4 781.7 785.5 780.4 784.1C779.1 782.8 773.2 782.9 773.2 782.2C773.2 781.5 778.9 778.6 780.4 778.1C781.9 777.5 785.3 776.9 786.4 777.4C787.6 777.8 788.9 780.9 790.0 781.7C791.2 782.5 795.5 783.4 796.1 784.1C796.6 784.8 794.5 786.9 794.9 787.7C795.6 788.7 799.9 792.0 802.1 792.6C804.4 793.1 812.2 792.8 814.2 792.6C815.7 792.3 817.7 790.0 819.0 790.1C820.3 790.3 824.0 792.6 825.0 793.8C826.0 794.9 826.0 799.0 827.4 799.8L841.9 801.0C843.3 801.8 842.9 806.0 844.3 807.0C845.7 808.1 852.7 810.6 854.0 809.9C855.2 809.2 855.5 802.6 855.2 801.0C854.8 799.4 851.3 797.4 850.8 796.2C850.3 794.9 849.8 790.6 850.8 790.1C851.9 789.7 858.1 792.1 860.0 792.6C861.9 793.0 865.8 793.6 867.2 794.2C868.6 794.9 870.6 798.2 872.0 798.1L884.1 790.1C886.6 788.5 891.5 785.2 893.7 784.1C896.0 783.0 901.0 781.3 903.4 780.5C905.8 779.7 912.8 777.7 914.0 777.4M759.9 796.2C759.8 796.7 759.6 800.0 758.7 801.0L746.6 808.2C744.7 809.2 741.1 810.5 739.4 810.6C737.7 810.8 733.3 808.7 732.2 809.4C731.0 810.1 729.2 815.1 729.8 816.7C730.3 818.2 736.3 821.4 737.0 822.7C737.5 823.8 735.4 826.5 735.8 827.5C736.2 828.5 740.0 830.0 740.6 831.1C741.2 832.3 741.4 835.7 740.6 837.2C739.6 838.9 733.3 844.1 732.2 845.6C731.5 846.6 731.1 849.2 731.0 849.7M731.0 849.7C731.9 849.8 737.0 849.8 739.4 850.4C741.8 851.1 749.5 854.1 751.5 855.3C753.1 856.3 756.1 859.1 756.3 860.1C756.4 861.1 753.0 862.4 752.7 863.7L753.4 878.2C754.7 880.4 760.8 882.0 763.5 883.0L776.8 886.6L770.8 902.3C770.2 904.3 769.4 907.8 770.3 909.5L780.4 919.2L792.5 936.0L802.1 948.1L805.7 965.0C806.4 968.4 808.3 973.5 808.1 977.0L803.3 998.7C803.7 999.7 807.9 999.1 808.1 999.9C808.4 1000.8 805.8 1004.2 805.7 1006.0L808.1 1019.0M615.0 1052.8C616.0 1053.7 622.3 1058.1 623.4 1061.2L624.6 1079.3C624.8 1079.7 625.4 1080.3 625.9 1080.5L639.1 1085.3C641.8 1086.4 647.4 1088.9 648.8 1090.1C650.0 1091.3 649.8 1094.9 651.2 1095.7L664.4 1097.4C667.3 1097.3 673.2 1094.8 675.3 1095.0C677.4 1095.1 681.4 1097.7 682.5 1098.6C683.5 1099.3 684.8 1101.1 684.9 1102.2C685.1 1103.3 683.4 1107.3 683.7 1108.2C684.0 1109.2 686.3 1110.3 687.3 1110.2C688.9 1109.7 695.3 1104.8 697.0 1104.6C698.5 1104.5 700.7 1107.1 701.8 1108.2C702.9 1109.4 706.6 1113.1 706.6 1114.3C706.6 1115.4 703.1 1116.6 701.8 1117.9C700.5 1119.1 696.1 1123.6 695.8 1125.1C695.5 1126.7 699.5 1129.9 699.4 1131.1C699.3 1132.4 695.6 1135.0 694.6 1136.0C693.6 1136.9 691.2 1138.3 691.0 1139.6C690.7 1140.8 693.0 1145.4 692.2 1146.8C691.3 1148.2 684.9 1150.2 683.7 1151.6C682.6 1153.0 682.9 1157.6 682.5 1158.9C682.1 1160.0 679.8 1161.6 680.1 1162.5C680.7 1163.6 686.9 1166.7 687.3 1168.5C687.8 1170.3 685.1 1176.2 683.7 1178.2C682.3 1180.1 677.0 1183.6 675.3 1185.4C673.6 1187.2 669.7 1192.4 669.3 1193.8C669.1 1194.9 670.7 1197.3 671.7 1197.5C672.8 1197.6 678.2 1194.2 678.9 1195.0C679.6 1195.9 678.5 1202.7 677.7 1204.7C676.9 1206.7 672.2 1210.5 671.7 1211.9C671.3 1213.2 673.6 1216.1 672.9 1216.7C672.0 1217.5 666.1 1216.5 664.4 1218.0C662.7 1219.4 658.7 1226.7 658.4 1228.8C658.1 1230.9 662.3 1235.8 662.0 1236.0C661.7 1236.3 657.5 1231.5 656.0 1231.2C654.4 1230.9 649.9 1232.1 648.8 1233.6C647.6 1235.2 646.1 1241.8 646.4 1244.5C646.6 1247.2 649.3 1254.6 651.2 1256.5C653.0 1258.5 660.6 1258.9 662.0 1261.4L663.2 1278.0M741.6 1078.1C741.5 1079.3 741.1 1087.0 740.4 1088.9C739.7 1090.8 737.0 1093.4 735.6 1094.2C734.2 1095.1 729.5 1096.2 728.3 1096.2C727.5 1096.0 726.2 1094.0 725.9 1093.8M724.7 1099.8C725.4 1099.9 729.8 1100.4 730.8 1101.0C731.7 1101.6 733.3 1104.0 733.2 1104.6C733.0 1105.2 730.5 1106.6 729.5 1106.3C728.6 1106.0 725.3 1102.7 724.7 1102.2M806.7 1019.0C805.7 1020.1 799.8 1027.4 798.3 1028.6C797.1 1029.4 794.4 1028.9 793.5 1029.9L783.8 1050.4L774.2 1064.8C772.4 1066.9 767.5 1069.3 766.9 1070.8C766.4 1072.4 769.5 1077.0 769.3 1078.1C769.2 1079.1 766.1 1079.5 765.7 1080.5L766.9 1096.2C767.6 1098.2 770.3 1102.1 771.8 1102.2C773.2 1102.3 776.7 1098.5 779.0 1097.4L793.5 1091.3C794.5 1091.4 796.6 1093.5 796.3 1094.2C795.5 1095.4 786.4 1099.6 786.2 1101.0C786.0 1102.3 793.8 1104.7 794.7 1105.8C795.3 1106.8 794.4 1109.8 793.5 1110.6C791.9 1111.6 783.9 1113.1 781.4 1114.3C778.9 1115.4 774.3 1118.2 771.8 1120.3L759.7 1132.3C757.8 1133.8 754.4 1134.6 752.5 1136.0C750.5 1137.4 744.5 1141.7 742.8 1144.4L738.0 1158.9C736.7 1160.4 732.3 1162.2 730.8 1161.3L723.5 1148.7C721.8 1148.0 717.8 1154.4 716.3 1155.3C714.8 1156.0 710.7 1154.9 710.3 1156.0L713.9 1168.5C715.0 1170.8 719.3 1173.5 719.9 1175.8C720.5 1178.0 717.7 1186.8 718.7 1187.8C719.7 1188.8 725.8 1184.5 728.3 1184.2C730.9 1183.9 737.4 1185.3 740.4 1185.4L754.4 1184.9C755.5 1186.2 750.2 1193.8 750.0 1196.2C749.9 1198.7 751.3 1204.2 752.9 1205.9C754.6 1207.6 762.2 1209.9 764.5 1210.7C766.9 1211.5 772.4 1211.4 773.0 1212.6C773.5 1213.9 769.5 1219.4 769.3 1221.6C769.2 1223.7 771.9 1228.5 771.8 1231.2L768.1 1244.5C767.1 1245.2 763.8 1240.7 762.1 1240.9C760.4 1241.0 754.8 1243.9 753.7 1245.7C752.5 1247.5 753.6 1254.6 752.5 1256.5C751.3 1258.5 745.4 1261.4 744.0 1262.6C743.0 1263.5 740.6 1265.2 740.9 1266.2L756.1 1278.0M672.3 1209.6C671.5 1210.6 666.4 1216.1 665.1 1218.1C663.8 1220.1 662.3 1225.0 661.5 1226.5C660.7 1228.1 659.3 1230.5 657.9 1231.4C656.3 1232.2 649.6 1232.1 648.2 1233.8C646.9 1235.4 646.0 1243.1 646.3 1245.8C646.6 1248.5 648.9 1254.8 650.6 1256.7C652.4 1258.5 660.2 1260.9 661.5 1261.5M657.9 1231.4L662.7 1237.4M663.9 1274.8C663.3 1275.7 659.2 1281.8 659.1 1283.2C659.1 1284.3 661.5 1286.3 662.7 1286.3C664.0 1286.3 668.5 1283.4 669.9 1283.2C671.3 1283.0 673.8 1285.4 674.8 1284.9C675.7 1284.3 677.2 1279.6 678.4 1278.4C679.5 1277.1 683.0 1274.1 684.4 1274.3C685.8 1274.4 689.2 1278.3 690.4 1279.6C691.7 1280.8 694.0 1284.5 695.3 1284.9C696.5 1285.3 700.1 1283.0 701.3 1283.2C702.5 1283.4 704.3 1286.5 705.6 1286.3C707.0 1286.1 712.0 1282.3 713.3 1281.5C714.4 1280.9 716.3 1279.1 717.0 1279.6C717.7 1280.2 718.5 1285.9 719.4 1286.8C720.2 1287.7 722.8 1287.5 724.2 1287.3C726.0 1286.9 732.9 1283.4 735.0 1283.2C737.1 1283.0 740.2 1285.3 742.3 1285.6C744.4 1285.9 751.6 1286.6 753.1 1285.6C754.7 1284.6 756.0 1278.7 755.5 1277.2C755.1 1275.6 751.2 1273.8 749.5 1272.3C747.8 1270.9 741.7 1266.4 741.1 1265.1C740.8 1264.1 743.2 1261.6 744.2 1261.5C745.2 1261.4 748.3 1264.9 749.5 1264.6C750.7 1264.3 754.0 1261.0 754.3 1259.1C754.7 1257.0 751.8 1248.9 752.4 1247.0C753.0 1245.3 757.8 1244.1 759.2 1243.4C760.5 1242.7 763.0 1240.9 764.0 1241.0C765.0 1241.1 766.9 1245.0 767.6 1244.6C768.5 1243.8 771.6 1236.2 771.7 1233.8C771.8 1231.4 768.6 1226.6 768.8 1224.1C769.0 1221.6 773.7 1214.1 773.1 1212.5C772.6 1211.0 766.2 1211.5 764.0 1210.9C761.8 1210.2 755.9 1208.5 754.3 1207.2C752.8 1206.0 751.1 1200.8 750.7 1200.0M193.0 1070.0C191.7 1070.7 184.7 1075.1 182.0 1076.0C179.3 1076.9 171.6 1077.3 170.0 1078.0C169.0 1078.6 169.0 1081.4 168.0 1082.0C166.7 1082.6 159.8 1083.7 159.0 1083.0C158.2 1082.3 161.9 1076.3 161.0 1076.0C160.1 1075.7 153.8 1079.7 151.0 1080.0L137.0 1079.0C135.8 1078.8 133.5 1078.1 133.0 1078.0M543.3 815.1C544.5 814.9 552.3 813.1 554.2 813.3C555.7 813.5 558.1 815.4 559.0 816.3C559.9 817.2 561.2 820.4 562.0 821.1C562.9 821.9 565.2 823.0 566.3 823.0C567.3 822.9 570.1 821.7 571.1 820.5C572.1 819.4 573.9 814.7 574.7 813.3C575.6 811.9 577.5 809.3 578.4 808.4C579.2 807.5 581.3 806.5 582.0 805.4C582.9 804.0 584.9 798.1 585.6 796.3C586.3 794.6 587.4 791.5 588.1 790.3C588.8 789.1 590.8 786.7 591.7 786.0C592.6 785.4 595.4 785.0 595.9 784.8M543.3 816.1C544.5 815.8 552.4 814.1 554.2 814.2C555.5 814.4 557.5 816.2 558.4 817.1C559.2 818.0 560.5 821.2 561.4 822.0C562.3 822.8 565.1 824.0 566.3 823.9C567.5 823.9 570.6 822.7 571.7 821.5C572.8 820.3 574.7 815.4 575.6 814.0C576.5 812.6 578.4 810.1 579.2 809.2C580.1 808.2 582.1 807.2 582.9 806.1C583.7 804.7 585.8 798.7 586.5 796.9C587.2 795.2 588.2 792.2 588.9 791.0C589.6 789.8 591.5 787.5 592.3 786.9C593.1 786.3 595.5 785.8 595.9 785.7M242.6 720.0C241.6 721.1 236.4 727.6 234.2 729.8L224.5 738.9M186.8 747.9C187.2 746.5 189.8 742.2 190.9 740.9C192.1 739.7 194.7 737.9 196.5 737.5C198.3 737.1 204.2 737.1 206.3 737.5C208.4 737.9 213.3 740.1 214.7 740.9C215.9 741.7 217.7 743.4 218.2 744.4C218.7 745.5 219.1 749.1 218.9 750.0C218.6 751.0 216.2 752.1 216.1 752.8C216.0 753.6 217.9 755.5 218.2 756.3C218.5 757.1 219.4 759.2 218.9 759.8C218.1 760.5 213.2 761.7 211.9 761.9C210.7 762.1 208.8 761.4 207.7 761.9C206.3 762.6 201.3 767.2 200.0 768.2C199.1 768.9 197.3 770.4 196.5 770.3C195.8 770.2 194.3 768.5 193.7 767.5C193.1 766.3 191.7 762.1 190.9 760.5C190.2 758.9 187.9 755.0 187.5 753.5C187.0 752.1 186.4 749.4 186.8 747.9M190.9 747.9C191.4 746.9 193.7 745.2 194.4 745.1C195.2 745.1 197.2 746.4 197.2 747.2C197.1 748.5 193.8 754.8 193.0 755.6C192.6 755.8 191.2 754.8 190.9 754.2C190.7 753.3 190.5 749.0 190.9 747.9M198.6 744.4C199.9 743.7 207.2 742.2 209.1 742.3C211.1 742.5 215.1 745.2 215.4 745.8C215.6 746.4 213.0 747.7 211.9 747.9C210.5 748.1 204.9 746.7 203.5 747.2C202.1 747.7 201.1 750.7 200.0 752.1C199.0 753.6 195.3 759.2 194.4 759.8C194.0 759.9 193.0 758.3 193.0 757.7C193.5 756.4 198.0 750.2 198.6 748.6C199.0 747.5 197.9 745.1 198.6 744.4M205.6 749.3C206.3 749.0 211.2 748.4 211.9 748.6C212.3 748.9 211.8 751.1 211.2 751.4C210.5 751.8 207.0 752.1 206.3 751.8C205.8 751.6 205.2 749.7 205.6 749.3M206.3 756.3C207.4 755.7 214.9 754.1 216.1 754.2C216.7 754.4 217.2 756.6 216.8 757.0C215.7 757.6 208.2 759.2 207.0 759.1C206.4 758.9 205.9 756.7 206.3 756.3M218.9 740.9C220.0 741.4 226.5 744.2 228.7 745.1C230.8 746.1 234.9 748.0 237.0 749.3C239.2 750.6 244.7 754.8 246.8 756.3C248.9 757.8 253.6 760.6 255.2 761.9C256.8 763.2 259.3 766.2 260.8 767.5C262.2 768.8 266.0 771.9 267.8 773.1C269.6 774.2 274.0 776.5 276.1 777.3C278.3 778.0 283.6 779.2 285.9 779.4C288.2 779.5 293.6 778.8 295.7 778.7C297.8 778.5 302.3 778.3 304.1 778.0C305.9 777.6 309.2 776.0 311.1 775.9C312.9 775.7 319.0 776.5 320.0 776.6M221.7 747.2C222.8 747.3 229.7 747.3 231.5 747.9C233.2 748.6 235.4 751.4 237.0 752.8C238.7 754.3 243.5 759.1 245.4 760.5C247.4 761.9 252.2 763.6 253.8 764.7C255.4 765.8 257.8 769.1 259.4 770.3C261.0 771.5 265.8 774.2 267.8 775.2C269.7 776.1 274.0 778.0 276.1 778.7C278.3 779.3 284.8 780.5 285.9 780.8M223.1 747.9C222.9 748.7 221.4 753.8 221.7 754.9C222.0 756.1 225.1 758.0 225.9 757.7C226.7 757.4 228.0 752.0 228.7 752.1C229.3 752.3 230.6 758.8 231.5 759.1C232.3 759.4 234.8 755.2 235.6 754.9C236.4 754.7 237.8 755.7 238.4 756.3C239.3 757.1 241.2 760.8 242.6 761.9C244.1 763.0 249.9 765.1 251.0 766.1C251.9 766.9 251.8 770.1 252.4 770.3C253.1 770.4 255.8 767.0 256.6 767.5C257.4 768.1 258.7 774.4 259.4 775.9C260.0 777.2 261.5 779.4 262.2 780.1C262.8 780.7 264.6 781.3 265.0 781.5M218.9 759.8C220.0 760.0 226.5 760.8 228.7 761.2C230.8 761.6 235.2 762.6 237.0 763.3C238.8 764.0 242.6 766.3 244.0 767.5C245.5 768.6 248.5 772.0 249.6 773.1C250.7 774.1 253.3 776.2 253.8 776.6M235.6 761.9C236.5 762.2 241.2 763.9 242.6 764.7C244.1 765.5 246.7 767.5 248.2 768.9C249.8 770.3 255.3 775.6 256.6 777.3C257.7 778.7 258.7 781.5 259.4 782.8C260.0 784.2 261.2 787.3 262.2 788.4C263.2 789.6 266.1 792.1 267.8 792.6C269.4 793.2 274.0 793.3 276.1 793.3C278.3 793.3 284.7 793.4 285.9 792.6C287.0 791.9 286.6 788.3 286.6 787.0C286.6 785.7 286.0 782.1 285.9 781.5M270.6 781.5C270.9 781.3 273.1 779.7 273.4 780.1C273.6 780.5 273.1 784.5 272.7 785.6C272.2 786.8 270.2 789.3 269.9 789.8M274.7 781.5C275.4 781.4 279.5 780.3 280.3 780.8C281.1 781.2 281.7 784.6 281.7 785.6C281.8 786.7 281.5 789.7 281.0 789.8C280.5 790.0 277.9 787.4 277.5 787.0M285.9 781.5C286.2 782.8 287.9 790.5 288.7 792.6C289.5 794.7 291.8 798.3 292.9 799.6C294.0 800.9 297.8 803.3 298.5 803.8M198.6 768.2C199.5 767.9 204.8 766.5 206.3 766.1C207.9 765.7 210.4 765.2 211.9 764.7C213.4 764.2 218.1 762.2 218.9 761.9M211.9 764.7C211.8 765.3 211.9 769.0 211.2 770.3C210.5 771.6 207.0 774.4 206.3 775.9C205.6 777.3 204.6 781.2 204.9 782.8C205.2 784.5 208.1 788.2 209.1 789.8C210.1 791.5 212.6 795.3 213.3 796.8C213.9 798.3 215.0 801.3 214.7 802.4C214.4 803.5 211.3 805.6 210.5 806.6C209.7 807.6 207.3 809.8 207.7 810.8C208.4 811.9 214.8 815.6 216.1 816.4C216.9 816.8 218.6 817.6 218.9 817.8M197.9 798.9C198.2 799.0 200.1 799.4 200.0 799.6C199.7 799.9 194.8 801.2 195.1 801.7C195.5 802.2 202.9 803.4 203.5 803.8C203.8 804.1 199.9 804.6 200.0 805.2C200.2 805.8 204.0 808.7 204.9 809.4C205.7 809.9 207.4 810.6 207.7 810.8M194.7 800.7L177.9 806.3L161.2 810.5C159.6 811.0 156.9 812.0 156.3 813.3C155.7 814.5 155.6 819.1 155.9 820.9C156.1 822.8 158.4 827.7 158.4 829.3C158.3 831.0 156.4 833.8 155.6 834.9C154.8 836.1 152.0 838.4 151.4 839.1C151.0 839.6 150.2 840.6 150.0 840.8M150.0 846.8C151.0 846.6 156.4 845.0 158.4 845.0C160.3 844.9 165.3 845.8 166.8 846.4C168.2 846.9 169.6 849.3 170.9 849.6C172.3 849.9 176.1 849.4 177.9 849.2C179.8 848.9 185.4 847.2 186.6 847.5C187.6 847.9 187.4 850.8 188.0 852.0C188.6 853.1 190.8 856.0 191.9 857.3C193.0 858.6 196.7 861.8 197.5 863.1C198.3 864.4 197.9 867.5 198.9 868.4C199.9 869.4 204.1 870.7 205.9 871.5C207.7 872.4 212.5 874.7 214.2 875.7C216.0 876.7 220.2 878.9 221.2 879.9C222.1 880.7 223.0 882.7 222.9 883.8C222.7 885.1 220.8 889.4 219.8 890.8C218.8 892.1 215.9 894.4 214.2 895.3C212.6 896.1 207.5 897.5 205.9 898.0C204.2 898.6 200.9 899.8 200.3 900.0M159.1 830.0C159.8 829.8 164.4 828.6 165.4 827.9C166.3 827.3 166.5 825.0 167.5 824.4C168.6 823.8 173.8 822.9 175.1 822.3C176.5 821.8 178.2 820.0 179.3 819.6C180.5 819.1 183.3 818.0 184.9 818.2C186.5 818.3 191.7 819.7 193.3 820.5C194.9 821.4 197.8 824.0 198.9 825.4C199.9 826.8 202.1 830.8 202.4 832.4C202.6 834.0 200.8 837.9 201.0 839.4C201.1 840.9 203.2 844.1 203.8 845.4C204.3 846.7 205.2 849.1 205.9 850.6C206.5 852.1 208.5 857.8 209.4 858.9C210.1 859.8 212.0 860.1 213.1 860.3C214.7 860.7 220.5 861.4 222.6 861.7C224.7 862.1 229.2 862.5 231.0 863.1C232.8 863.8 237.0 866.2 238.0 867.3C239.0 868.5 238.3 871.9 239.4 872.9C240.5 873.9 245.6 875.0 247.8 875.7C249.9 876.4 255.9 877.7 257.5 878.5C259.0 879.2 260.4 881.7 261.7 882.4C263.0 883.1 266.8 884.5 268.7 884.6C270.7 884.8 276.4 884.2 278.5 883.8C280.6 883.4 285.1 882.0 286.9 881.0C288.7 880.0 292.7 876.7 293.9 875.4C295.0 874.1 296.8 870.8 296.6 869.8C296.5 868.8 292.9 867.1 292.5 866.8M168.2 833.5L177.9 824.4C178.5 824.4 178.0 827.2 178.6 827.9C179.7 828.9 187.1 832.0 187.0 832.4C186.9 832.8 180.0 831.2 177.9 831.4C175.9 831.7 170.7 834.4 169.6 834.6C169.1 834.6 168.1 833.9 168.2 833.5M177.9 844.7C178.5 844.3 182.5 843.5 183.5 843.6C184.5 843.7 186.6 845.0 186.6 845.4C186.6 845.8 184.4 847.0 183.5 847.2C182.6 847.4 179.3 847.1 178.6 846.8C178.2 846.5 177.6 845.0 177.9 844.7M169.6 847.5C170.0 847.1 174.3 846.6 175.1 846.8C175.8 847.0 176.9 848.8 176.5 849.2C176.0 849.5 171.8 850.2 170.9 850.0C170.3 849.8 169.2 847.8 169.6 847.5M189.8 840.8C190.4 840.4 195.5 839.2 196.1 839.8C196.7 840.4 194.4 844.6 194.7 846.1C195.0 847.6 198.5 851.5 198.9 852.4C199.0 852.8 198.5 853.8 198.2 853.8C197.7 853.5 195.5 851.5 194.7 850.3C193.9 849.1 191.8 844.4 191.2 843.3C190.8 842.6 189.5 841.2 189.8 840.8M213.5 800.0C213.3 800.5 212.3 803.1 211.5 804.2C210.6 805.3 206.2 808.9 205.9 809.8C205.8 810.5 207.8 811.3 208.7 811.9C210.1 812.8 216.2 816.1 218.4 817.5C220.7 818.8 225.8 822.3 228.2 823.7C230.7 825.2 237.1 828.5 239.4 829.6C241.7 830.7 246.1 832.2 247.8 833.5C249.4 834.8 251.7 839.0 253.4 840.5C255.0 842.0 260.3 844.9 261.7 846.4C263.2 847.8 264.6 851.6 265.9 853.1C267.2 854.5 271.1 857.5 272.9 858.7C274.7 859.8 279.3 862.0 281.3 862.8C283.2 863.7 288.0 865.3 289.7 865.6C291.2 866.0 294.0 866.0 295.3 865.9C296.5 865.8 299.4 865.1 300.0 864.9M218.4 802.8C219.3 803.4 223.8 807.2 225.4 808.4C227.0 809.6 230.8 812.4 232.4 812.8C234.0 813.3 237.9 811.4 239.4 811.9C240.9 812.3 243.3 815.5 245.0 816.8C246.6 818.0 251.7 821.0 253.4 822.3C255.0 823.6 258.0 827.1 258.9 827.9C259.7 828.5 261.1 829.9 261.7 829.6C262.5 829.1 264.6 824.9 265.9 823.7C267.2 822.6 270.8 820.5 272.9 819.6C275.0 818.6 281.6 816.1 284.1 815.4C286.5 814.6 292.0 813.6 293.9 813.3C295.6 813.0 299.3 812.7 300.0 812.6M258.9 830.0C259.1 830.4 259.6 832.7 260.3 833.5C261.1 834.4 264.1 836.7 265.9 837.7C267.7 838.7 273.6 841.2 275.7 841.9C277.8 842.6 282.0 842.8 284.1 843.6C286.2 844.4 292.0 847.8 293.9 848.9C295.7 849.9 299.3 852.3 300.0 852.8M266.6 843.3C267.1 842.8 270.1 841.8 271.5 841.9C273.4 842.1 280.1 843.6 282.7 844.7C285.3 845.8 292.7 849.9 293.9 851.0C294.2 851.6 293.2 853.4 292.5 853.8C291.3 854.2 286.4 854.9 284.1 854.5C281.8 854.1 274.9 851.3 272.9 850.3C271.1 849.4 268.1 846.9 267.3 846.1C266.8 845.5 266.2 843.8 266.6 843.3M198.2 804.2C198.8 804.4 202.2 804.9 203.1 805.6C204.0 806.2 205.5 809.3 205.9 809.8M214.9 800.7C214.4 801.4 211.0 805.8 210.1 807.0C209.2 808.0 207.6 810.1 207.3 810.5M233.8 820.9L238.0 821.2M150.0 876.1C151.0 876.3 156.9 876.6 158.4 877.5C159.8 878.4 161.8 882.1 162.6 883.8C163.4 885.5 164.1 890.7 165.4 892.2C166.7 893.6 172.0 895.5 173.7 896.4C175.5 897.3 179.9 899.6 180.7 900.0M221.2 879.9C222.0 879.4 226.7 876.1 228.2 875.4C229.7 874.7 232.5 873.9 233.8 874.0C235.1 874.1 238.7 875.9 239.4 876.1M232.4 883.8C233.2 883.5 237.9 881.0 239.4 881.0C240.9 881.0 244.6 883.0 245.0 883.8C245.3 884.6 241.9 887.0 242.2 888.0C242.5 889.0 246.0 891.2 247.8 892.2C249.6 893.2 256.4 895.9 257.5 896.4M222.6 900.0C222.5 899.1 220.9 893.6 221.2 892.2C221.6 890.8 224.0 888.7 225.4 888.0C226.9 887.3 232.2 885.7 233.8 885.9C235.4 886.1 237.8 888.4 239.4 889.4C241.0 890.4 245.6 893.5 247.8 894.3C250.0 895.1 256.0 896.5 258.2 896.4C260.5 896.3 265.3 894.4 267.3 893.6C269.4 892.8 273.4 890.2 275.7 889.4C278.0 888.6 284.4 887.1 286.9 886.6C289.3 886.1 295.1 885.7 296.6 885.2C297.8 884.8 299.6 882.7 300.0 882.4M258.2 896.4C259.0 896.4 263.6 895.9 264.5 896.4C265.4 896.8 265.8 899.6 265.9 900.0M292.5 866.8C292.6 867.0 293.4 868.9 293.9 869.1C294.3 869.3 296.3 868.5 296.6 868.4M334.5 864.6C335.1 864.7 338.4 865.0 340.0 864.9C341.7 864.8 346.7 863.9 348.9 863.4C351.2 862.9 356.9 861.1 359.4 860.4C361.8 859.8 367.7 858.1 369.8 858.2C371.9 858.3 375.0 861.2 377.2 861.2C379.5 861.2 386.7 858.8 389.2 858.2C391.6 857.6 397.1 856.2 398.1 856.0M410.0 854.5C410.2 854.0 413.6 851.7 414.5 851.5C415.3 851.4 417.6 852.5 417.5 853.0C417.3 853.5 413.9 855.8 413.0 856.0C412.2 856.1 409.9 855.0 410.0 854.5M404.1 857.5C404.8 857.3 408.6 855.8 410.0 856.0C411.4 856.2 415.3 858.6 416.0 859.0M464.1 779.4C464.6 779.5 467.4 779.3 468.1 780.0C468.8 780.8 470.2 784.7 470.4 786.0C470.5 787.2 468.9 790.0 469.6 790.4C470.4 790.9 476.1 788.9 477.1 789.7C478.0 790.5 478.7 796.2 477.8 797.1C476.9 798.1 470.4 797.0 469.6 797.9C468.8 798.7 470.1 803.7 471.1 804.6C472.1 805.5 476.9 804.2 477.8 805.3C478.7 806.5 478.5 813.2 478.5 814.3M477.8 797.1C478.6 797.2 483.6 798.3 484.5 797.9C485.4 797.4 484.4 794.0 485.3 793.4C486.1 792.8 491.0 793.5 492.0 792.7C492.9 791.8 492.5 786.8 493.4 786.0C494.4 785.1 499.2 785.3 500.0 785.2M362.3 869.4L363.1 871.6M329.6 875.8C330.8 875.6 338.1 874.2 340.0 873.9C341.7 873.6 344.4 873.8 346.0 873.1C347.5 872.4 351.5 868.9 353.4 867.9C355.3 866.9 360.4 865.7 362.3 864.9C364.3 864.1 368.9 861.6 369.8 861.2M369.8 823.2C370.1 823.7 372.1 827.0 372.0 827.7C371.9 828.4 369.7 829.5 369.1 829.2C368.4 828.8 366.4 825.2 366.1 824.7" fill="none" stroke="#1e1e1e" stroke-width="0.8" stroke-linejoin="round" stroke-linecap="round"/>
<path d="M508.7 302.0L552.1 262.9C554.2 261.7 558.3 262.3 560.6 261.2L572.6 252.8C573.9 251.7 575.6 248.5 576.0 248.0M788.2 110.5C787.7 111.4 784.1 116.1 783.4 117.8C782.7 119.4 781.9 123.3 782.2 125.0C782.5 126.7 784.1 130.9 785.8 132.2C787.6 133.6 796.2 136.1 797.9 137.1C798.8 137.8 799.3 140.5 800.3 140.7C801.4 140.8 806.0 138.3 807.5 138.3C809.1 138.3 812.7 139.4 813.5 140.7C814.4 141.9 814.7 147.6 814.7 149.1C814.7 150.5 813.3 153.1 813.5 153.9C813.8 154.7 816.8 155.2 816.7 155.9C816.4 156.7 812.5 160.0 811.1 161.2C809.8 162.3 805.7 164.6 805.1 166.0C804.5 167.4 806.7 171.5 806.3 173.2C805.9 174.9 802.5 178.8 801.5 180.5C800.5 182.1 798.6 186.7 797.9 187.7C797.4 188.3 795.4 188.4 795.5 188.9C795.6 189.6 798.8 192.5 799.1 193.7C799.3 195.0 798.8 198.3 797.9 199.8C796.9 201.3 791.9 205.0 790.6 207.0C789.4 209.0 787.6 214.4 787.0 216.6C786.4 218.9 785.5 224.3 785.3 226.3C785.2 228.2 784.9 231.8 785.8 233.5C786.7 235.2 790.5 239.7 793.0 240.7L807.5 242.7L819.6 249.2C822.4 250.4 829.8 253.5 831.6 252.8C833.4 252.1 834.6 244.3 835.0 243.2M815.0 246.0L830.7 253.2C833.1 252.6 834.5 244.2 835.5 241.2L839.1 226.7L846.4 213.4L857.2 206.2C859.6 204.8 864.9 201.6 866.8 201.4C868.8 201.1 872.7 203.4 874.1 203.8C875.5 204.2 878.1 204.3 878.9 205.0C879.8 205.7 880.4 208.6 881.3 209.8C882.3 211.1 886.5 214.6 887.3 215.8C888.1 217.0 887.8 220.2 888.6 220.7C889.3 221.1 892.5 218.9 893.4 219.5C894.2 220.0 894.8 224.1 895.8 225.5C896.8 226.9 900.5 230.1 901.8 231.5C903.1 232.9 905.9 236.1 906.6 237.5C907.4 238.9 907.3 243.3 908.6 243.6L921.1 237.5L934.4 237.5L956.1 259.0M956.1 259.0L971.8 274.7L988.6 291.6L1003.1 310.8L1012.7 322.9C1014.3 324.2 1019.1 324.1 1019.5 325.3C1019.9 326.6 1017.2 331.5 1016.4 333.8C1015.5 336.0 1012.0 343.3 1012.3 344.6C1012.6 345.8 1017.3 344.4 1018.8 345.3C1020.5 346.5 1026.1 353.4 1027.2 355.0C1027.8 356.0 1027.9 358.6 1028.4 359.1C1029.0 359.6 1031.6 359.1 1032.0 359.1M828.3 259.0C829.3 259.4 836.2 260.5 837.2 262.6L836.7 277.1L854.1 304.3L845.1 321.7L829.0 333.3C826.5 333.5 822.7 326.3 821.0 325.3C819.6 324.5 815.7 324.7 815.0 324.6M815.0 439.4C815.6 439.5 818.4 440.5 819.8 440.3C821.2 440.2 825.9 437.7 827.1 437.9C828.2 438.2 828.5 441.2 829.5 442.3C830.9 443.8 837.6 448.7 839.1 450.7C840.7 452.7 842.2 457.8 842.7 459.2C843.1 460.2 843.2 462.7 843.9 462.8C844.9 462.8 849.8 459.9 851.2 459.2C852.6 458.5 855.2 456.5 856.0 456.7C856.8 457.0 857.6 460.5 858.4 461.1C859.3 461.7 862.2 462.0 863.2 461.6C864.2 461.1 866.0 457.4 866.8 457.2C867.7 457.1 869.2 459.8 870.5 460.4C872.0 461.0 879.1 464.2 880.1 462.8L878.9 447.6C879.9 444.9 885.4 440.8 888.6 439.4L906.2 435.0L930.8 445.9C932.1 447.5 930.0 453.2 930.3 454.3C930.6 455.0 932.8 455.4 933.2 455.5M815.0 634.5C815.7 634.3 819.9 632.5 821.0 632.5C822.1 632.6 823.5 634.3 824.6 634.5C826.1 634.6 832.5 634.3 833.8 633.8C834.8 633.2 834.5 630.2 835.5 629.4C837.0 628.5 844.1 626.1 846.4 625.8C848.6 625.5 853.2 625.5 854.8 626.5C856.3 627.6 858.3 633.1 859.6 635.0C860.9 636.8 864.4 640.8 865.6 642.2C866.9 643.6 869.8 645.9 870.5 647.0C871.2 648.1 870.9 650.9 871.7 651.8C872.5 652.8 876.0 655.3 877.2 655.5C878.5 655.7 880.9 653.6 882.5 653.5C884.4 653.5 891.0 655.0 893.4 655.0C895.8 654.9 901.5 652.8 903.0 653.0C904.3 653.3 906.0 655.8 906.6 656.7C907.3 657.6 907.7 660.8 908.6 660.8C909.4 660.8 912.8 657.1 913.9 656.7C914.8 656.4 916.4 657.2 917.5 657.4C918.8 657.7 923.7 657.9 924.7 659.1C925.8 660.3 926.6 665.5 926.4 667.5C926.3 669.5 922.4 674.5 923.5 676.0L938.0 680.1C941.1 680.5 948.6 680.1 950.0 680.1M772.5 357.9L783.4 371.9L794.2 384.0C794.8 386.3 789.8 390.7 788.2 392.4C786.7 394.1 782.7 397.5 781.0 398.5C779.2 399.4 773.7 399.3 773.3 400.9L778.6 415.3L784.6 432.2C785.5 433.6 788.7 435.7 789.4 435.8C789.9 435.8 790.0 433.8 790.6 433.4C791.6 433.0 795.9 431.8 797.9 432.2C799.8 432.6 805.3 436.1 807.5 437.0C809.8 438.0 815.5 440.4 817.2 440.7C818.6 440.8 820.7 439.1 822.0 439.0C823.2 438.8 827.2 439.0 828.0 439.5C828.8 439.9 828.5 442.3 829.2 443.1C830.0 443.9 834.3 446.3 835.0 446.7M576.0 445.5C577.0 446.6 582.3 452.2 584.4 455.1L594.1 470.8C595.6 474.0 597.7 480.9 597.7 482.9C597.6 484.4 595.2 486.3 594.1 487.7C593.0 489.1 588.9 493.0 588.1 494.9C587.2 496.9 587.0 503.4 586.9 504.6M576.0 523.9L585.6 535.9L611.0 561.0M483.4 321.3L508.7 302.0M548.5 431.0C549.2 430.9 552.9 429.4 554.5 429.8L567.8 437.0C570.3 438.9 575.0 444.5 576.0 445.5M512.3 561.0L531.6 549.9L576.0 519.0M333.9 588.9L353.2 598.1C354.1 598.0 354.6 595.3 355.6 595.0C356.9 594.6 362.9 594.5 364.0 595.0C364.8 595.4 365.4 597.6 365.2 598.6L354.4 616.7L353.2 629.9C352.7 631.2 349.8 632.7 349.6 633.6C349.3 634.5 349.9 637.1 350.8 637.7L367.6 640.1L380.9 633.6C382.6 632.9 385.2 632.6 386.9 632.3C388.6 632.1 394.1 630.4 395.4 631.6C396.6 632.9 396.1 642.8 397.8 643.2L409.8 635.2C411.1 634.7 413.3 635.1 414.7 634.8C416.5 634.3 422.8 632.5 425.5 631.1L437.6 623.2C440.1 622.3 445.5 625.2 447.2 623.9C448.9 622.6 450.4 613.4 452.0 611.8C453.7 610.3 459.4 611.6 461.7 610.6C463.9 609.7 469.7 604.5 471.3 603.4C472.6 602.6 475.6 601.7 476.2 601.5M414.7 634.8C414.9 635.9 415.5 642.1 417.1 644.4L430.3 656.5C432.2 657.7 436.3 658.5 437.6 659.4C438.8 660.3 441.5 663.4 441.2 664.2C440.9 665.0 435.6 665.1 435.2 666.1C434.7 667.1 438.5 672.1 437.6 672.9C436.5 673.6 427.8 671.8 425.5 672.1C423.3 672.5 419.6 674.8 418.3 675.8C417.0 676.7 414.2 679.5 414.7 680.6C415.2 681.7 422.1 683.4 423.1 685.4C424.1 687.4 422.8 695.2 423.1 697.5C423.4 699.6 424.1 703.8 425.5 704.7C426.9 705.6 435.0 704.5 435.2 705.2C435.3 705.9 428.7 708.6 426.7 710.7L417.1 724.0C416.7 724.6 415.5 726.0 415.9 726.4L430.3 728.8C431.2 729.4 431.5 732.4 430.8 733.1C429.8 734.0 422.0 734.4 421.9 736.0L435.2 755.3C436.0 757.2 436.2 761.7 436.4 762.6M579.6 627.5C579.5 628.6 577.3 635.2 578.4 637.2L589.3 644.4C590.5 646.7 588.0 654.2 589.3 656.5L600.1 663.7C602.2 665.7 606.2 671.7 607.4 673.3C608.2 674.7 610.0 676.8 609.8 678.2C609.5 679.6 605.2 684.6 604.9 685.4C605.0 685.8 607.3 685.1 607.4 685.4C606.8 686.5 601.4 693.4 600.1 695.0C599.1 696.5 596.2 698.7 596.5 699.9C596.8 701.0 601.0 704.4 602.5 704.7C604.1 705.0 608.3 703.7 609.8 702.3C611.3 700.7 614.5 692.8 615.8 691.4C616.8 690.5 619.9 689.5 620.6 690.2C621.3 691.2 621.4 697.1 621.8 699.9L624.2 714.3C625.2 716.2 629.4 717.3 630.3 719.2C631.1 721.1 630.5 728.7 631.5 731.2C632.5 733.8 637.6 738.6 638.7 740.9C639.8 743.1 640.8 748.3 640.6 750.5C640.5 752.8 637.9 759.0 637.5 760.2M735.0 929.9L717.2 932.3L700.3 927.5L703.9 954.0L709.9 975.8L717.2 992.6L726.8 1007.1L709.9 1021.6L655.7 1038.5L643.6 1055.3L641.2 1074.6C640.8 1075.7 639.1 1077.6 638.8 1078.0M757.5 931.2C757.1 931.4 754.8 932.8 753.9 932.4C752.6 931.7 749.2 925.4 746.6 925.2L727.3 932.4C724.6 933.2 720.4 934.1 717.7 933.6L700.8 927.6L704.4 952.9L710.5 977.0L717.7 991.5L726.9 1007.2L714.1 1019.0M713.9 1019.0L654.8 1038.3L642.7 1056.4L640.3 1076.9L625.9 1080.5M573.5 760.0L591.7 773.3C593.8 775.8 595.4 782.9 595.9 784.2" fill="none" stroke="#1e1e1e" stroke-width="0.95" stroke-linejoin="round" stroke-linecap="round"/>
<path d="M350.8 775.8L365.2 765.0C367.5 763.1 371.8 759.6 372.5 757.7C373.2 755.9 370.4 751.0 371.3 749.3C372.1 747.6 377.9 745.0 379.7 743.3C381.5 741.6 385.0 736.2 386.9 734.8C388.9 733.5 395.5 732.1 396.6 731.7M303.1 893.8C304.2 894.6 310.8 899.7 312.8 901.0C314.7 902.3 319.1 904.2 320.0 904.6M264.5 897.4C265.4 898.2 269.8 903.5 271.8 904.6C273.7 905.7 279.7 906.5 281.4 907.0C282.9 907.5 286.5 908.9 286.2 909.4C285.9 910.0 279.8 911.6 279.0 911.8M500.1 831.1C501.0 831.6 506.4 834.5 507.4 835.9C508.3 837.3 507.4 842.4 508.6 843.1C509.7 843.8 515.6 841.5 517.0 841.9C518.4 842.3 521.2 845.9 520.6 846.7L504.9 850.4M293.5 884.5C293.9 884.7 296.1 885.7 297.0 886.5C298.1 887.6 302.3 892.9 303.0 893.8" fill="none" stroke="#1e1e1e" stroke-width="1.05" stroke-linejoin="round" stroke-linecap="round"/>
<path d="M101.3 927.5C101.3 928.9 102.4 937.0 101.3 939.6L91.6 949.2C89.7 951.2 85.7 954.2 84.4 956.5C83.1 958.7 81.5 966.1 80.8 968.5C80.1 970.9 78.7 976.0 78.4 977.0M197.7 945.6C197.3 946.9 194.5 953.2 194.1 956.5L194.9 973.3C195.2 975.5 197.4 979.7 197.7 980.6M151.9 1025.2C152.2 1026.5 152.9 1033.9 154.3 1036.0C155.7 1038.1 162.9 1042.4 164.0 1043.3M290.1 781.5L291.5 785.6M294.3 779.4C294.5 779.8 295.0 783.3 295.7 783.5C296.4 783.8 299.4 781.7 299.9 781.5M304.1 778.0C304.3 778.5 305.7 781.8 306.2 782.8C306.7 783.9 308.0 786.6 308.3 787.0M309.7 776.6C309.8 777.1 310.4 780.4 311.1 781.5C311.7 782.5 314.8 785.2 315.3 785.6M315.3 776.6L316.6 782.8M442.8 861.2C443.7 861.6 448.3 864.4 450.2 864.9C452.2 865.4 457.3 865.8 459.2 865.7C461.1 865.5 464.9 863.5 466.6 863.4C468.4 863.3 472.2 864.7 474.1 864.9C476.0 865.2 482.0 865.6 483.0 865.7" fill="none" stroke="#1e1e1e" stroke-width="1.1" stroke-linejoin="round" stroke-linecap="round"/>
<path d="M696.6 476.8C697.7 477.1 704.0 478.0 706.2 479.2C708.5 480.5 713.6 485.9 715.9 487.7C718.1 489.5 723.8 493.0 725.5 494.9C727.2 496.9 729.2 503.2 730.3 504.6C731.3 505.7 733.8 507.2 735.2 507.0C736.6 506.7 741.1 502.6 742.4 502.2C743.4 501.9 745.5 502.6 746.0 503.4C746.6 504.2 746.2 508.3 747.2 509.4C748.2 510.5 753.0 511.6 754.5 513.0C755.9 514.4 757.9 519.9 759.3 521.5C760.7 523.0 765.4 524.6 766.5 526.3C767.6 528.0 768.4 534.0 768.9 535.9C769.5 537.9 770.8 541.2 771.3 543.2C771.9 545.1 773.6 551.1 773.7 552.8C773.8 554.2 772.3 556.9 772.5 557.6C772.8 558.3 775.5 559.3 776.2 558.8C776.9 558.3 778.6 554.3 778.6 552.8C778.6 551.3 776.7 546.7 776.2 545.6C775.7 544.7 774.0 543.4 773.7 543.2M461.7 573.3L471.3 582.9C473.0 585.0 475.6 588.7 476.2 591.4L476.6 608.2L471.3 632.3L468.9 656.5C469.0 660.0 469.4 665.7 471.3 668.5L490.6 685.4L493.0 702.3L502.7 719.2L512.3 730.0L534.0 738.5L558.2 750.5L576.0 761.4M730.3 756.5C730.9 757.8 733.5 764.7 735.2 767.4L744.8 779.5L754.5 791.5M647.2 819.0C647.8 819.8 650.4 824.8 652.0 826.2C653.7 827.6 659.7 829.9 661.7 831.1C663.7 832.2 667.2 834.5 668.9 835.9C670.6 837.3 674.2 842.1 676.2 843.1C678.1 844.1 683.0 844.4 685.8 844.3L705.1 841.9C706.5 841.1 706.4 836.7 707.5 835.9C708.6 835.0 713.1 833.8 714.7 834.7C716.4 835.5 720.3 841.6 722.0 843.1C723.7 844.7 727.7 847.7 729.2 847.9C730.7 848.2 734.3 845.8 735.0 845.5M705.1 841.9C705.8 842.9 710.0 848.5 711.1 850.4C712.3 852.2 713.0 856.3 714.7 857.6C716.6 858.9 724.5 860.1 726.8 861.2C729.1 862.3 733.1 864.9 734.0 867.2L735.0 888.9M655.0 828.7C656.1 829.4 662.7 833.6 664.6 834.8C666.6 835.9 670.5 837.2 671.9 838.4C673.3 839.5 675.0 843.6 676.7 844.4C678.4 845.2 683.6 845.1 686.4 844.9L705.6 842.0C707.5 840.9 708.3 835.7 709.3 834.8C710.2 833.8 713.0 833.0 714.1 833.6C715.2 834.1 718.2 838.3 718.9 839.6C719.6 840.8 719.3 843.3 720.1 844.4C721.0 845.5 724.9 848.6 726.1 849.2C727.4 849.8 730.4 849.7 731.0 849.7M705.6 842.0C706.2 843.1 709.3 849.8 710.5 851.6C711.6 853.5 713.6 856.7 715.3 857.7C717.0 858.7 723.0 859.4 724.9 860.1C726.9 860.8 731.2 861.9 732.2 863.7L733.4 878.2C733.9 880.4 736.7 884.0 737.0 885.4C737.2 886.7 735.2 889.2 735.8 890.2L746.6 897.5C748.5 899.4 750.8 904.9 751.5 907.1C752.2 909.4 752.1 914.5 752.7 916.8C753.2 919.0 755.7 924.7 756.3 926.4C756.7 927.8 756.5 930.4 757.5 931.2C758.9 932.2 766.4 934.5 768.3 934.8C770.1 935.1 773.2 933.4 774.4 934.1C775.5 934.8 776.5 939.2 778.0 940.9L790.0 950.5C791.7 953.0 791.9 960.0 792.5 962.6C793.0 965.1 795.3 970.0 794.9 972.2C794.4 974.5 789.7 979.6 788.8 981.9C788.0 984.1 787.8 989.3 787.6 991.5C787.4 993.8 786.6 998.8 787.2 1001.2C787.7 1003.5 792.4 1009.9 792.5 1012.0C792.5 1014.1 788.2 1018.2 787.6 1019.0M787.4 1019.0C786.4 1020.1 780.3 1026.5 779.0 1028.6C777.7 1030.8 777.7 1035.3 776.6 1037.1C775.4 1038.9 771.3 1042.9 769.3 1044.3C767.4 1045.7 761.7 1047.6 759.7 1049.1C757.7 1050.7 753.9 1056.0 752.5 1057.6C751.1 1059.1 748.3 1060.9 747.6 1062.4C746.9 1064.0 747.1 1069.0 746.4 1070.8C745.7 1072.7 743.2 1076.3 741.6 1078.1C740.1 1079.9 735.0 1084.7 733.2 1086.5C731.3 1088.4 726.9 1092.2 725.9 1093.8C725.0 1095.2 725.8 1098.5 724.7 1099.8C723.6 1101.1 717.6 1103.3 716.3 1104.6C715.0 1105.9 714.7 1109.8 713.9 1110.6C713.0 1111.5 709.6 1111.7 709.1 1111.8M713.9 1110.6L694.6 1149.2L678.9 1187.8C678.3 1190.8 680.8 1195.7 680.1 1198.7L663.2 1233.6L663.2 1278.0M679.6 1200.0L669.9 1219.3L662.7 1236.2C661.9 1239.5 663.2 1245.1 663.2 1248.2L662.7 1262.7C662.8 1265.8 663.8 1273.4 663.9 1274.8M579.7 819.0C579.5 818.8 578.2 817.4 578.4 816.9C578.6 816.4 580.5 814.3 581.4 814.5C582.4 814.8 585.5 818.7 586.8 819.3C588.1 819.9 591.5 820.0 592.9 819.9C594.3 819.8 597.9 819.0 599.0 818.1C600.1 817.2 601.3 812.9 602.0 812.0C602.6 811.2 604.2 810.3 605.0 810.2C605.8 810.1 607.7 810.9 608.5 811.5C609.4 812.1 611.1 815.1 612.3 815.7C613.5 816.3 617.8 817.2 618.9 816.9C620.0 816.5 620.7 813.3 622.0 812.7C623.5 812.1 629.6 811.2 631.6 811.5C633.6 811.8 637.3 814.5 638.9 815.1C640.5 815.7 644.5 815.4 645.6 816.3C646.7 817.2 647.8 821.8 648.6 823.0C649.4 824.2 651.5 825.9 652.2 826.6C652.9 827.3 654.7 828.5 655.0 828.7M210.5 735.1L228.7 745.1" fill="none" stroke="#1e1e1e" stroke-width="1.15" stroke-linejoin="round" stroke-linecap="round"/>
<path d="M436.8 818.7C436.7 819.8 435.7 825.8 435.3 827.7C435.0 829.6 434.5 833.6 433.9 835.1C433.2 836.7 429.8 839.7 429.4 841.1C429.0 842.5 430.3 845.5 430.1 847.0C430.0 848.6 428.2 852.8 427.9 854.5C427.5 856.1 427.1 860.1 427.2 861.2C427.3 862.1 428.5 863.8 428.6 864.2M404.1 839.6C404.8 839.1 408.8 836.0 410.0 835.1C411.2 834.3 413.4 832.7 414.5 832.1C415.6 831.6 419.1 830.6 419.7 830.4M430.1 845.5C430.7 845.2 434.3 843.3 435.3 842.6C436.4 841.9 438.3 840.2 439.1 839.6C439.9 839.0 441.7 837.6 442.0 837.4M351.9 869.4L353.4 877.6M351.6 869.1L359.4 867.6M357.1 871.6L358.6 876.1" fill="none" stroke="#1e1e1e" stroke-width="1.2" stroke-linejoin="round" stroke-linecap="round"/>
<path d="M576.0 749.3L588.1 742.1C590.9 741.4 596.8 742.3 600.1 743.3L617.0 750.5L636.3 760.2C639.0 760.7 643.4 758.6 645.9 757.7C648.5 756.9 654.9 753.9 658.0 752.9L672.5 749.3C675.3 749.3 679.9 752.8 682.1 752.9C684.4 753.1 689.5 750.9 691.8 750.5C694.0 750.1 699.0 750.2 701.4 749.3C703.8 748.5 710.0 743.4 712.3 743.3C714.5 743.1 718.6 746.6 720.7 748.1C722.8 749.6 729.1 756.3 730.3 756.5C731.3 756.5 730.6 751.9 731.5 750.5L744.8 739.7C747.3 738.3 752.8 738.5 754.5 737.2C756.1 736.0 757.9 728.8 759.3 728.8C760.7 728.8 764.5 736.7 766.5 737.2C768.5 737.8 774.6 735.2 776.2 733.6C777.7 732.1 780.1 726.2 779.8 724.0C779.5 721.7 773.0 716.9 773.7 714.3L788.2 699.9L801.5 691.4C802.4 690.2 802.2 686.4 801.5 685.4C800.8 684.4 796.3 684.4 795.5 683.0C794.6 681.3 794.7 674.0 794.2 670.9L791.8 656.5C790.8 653.6 785.7 648.8 785.8 646.8C785.9 644.8 792.8 641.3 793.0 639.6C793.3 637.9 789.3 633.5 788.2 632.3C787.1 631.3 784.6 630.9 783.4 629.9C782.0 628.7 777.6 624.3 776.2 621.5L768.9 601.0C767.5 598.5 762.4 596.3 761.7 593.8L762.9 579.3C763.7 577.9 768.8 578.0 768.9 576.9C769.1 575.8 763.3 570.8 764.1 569.6C764.9 568.5 774.8 568.4 776.2 567.2C777.4 566.1 776.2 560.8 776.2 560.0M253.7 957.7L256.1 975.8L259.7 1003.5M258.5 957.7L260.9 975.8L262.1 1003.5" fill="none" stroke="#1e1e1e" stroke-width="1.25" stroke-linejoin="round" stroke-linecap="round"/>
<path d="M141.1 1022.8L144.7 1036.0L147.1 1050.5L142.3 1065.0L137.5 1078.0M405.5 847.8C406.2 847.3 410.1 844.7 411.5 844.1C412.9 843.5 416.1 842.8 417.5 842.6C418.9 842.3 422.7 841.9 423.4 841.8M407.0 849.3C407.9 848.9 412.9 846.7 414.5 846.3C416.1 845.9 419.8 845.6 420.4 845.5M372.0 854.5C372.3 853.6 374.8 849.7 375.8 848.5C376.7 847.3 379.4 844.6 380.2 844.1C380.9 843.7 383.1 843.6 383.2 844.1C383.2 844.8 380.9 848.8 380.2 850.0C379.5 851.2 378.0 853.8 377.2 854.5C376.5 855.2 374.1 856.0 373.5 856.0C373.0 855.9 372.0 855.0 372.0 854.5M384.7 856.0C385.0 855.3 387.9 852.6 389.2 851.5C390.4 850.5 394.2 847.5 395.1 847.0C395.7 846.9 397.4 847.4 397.4 847.8C397.0 848.5 393.4 851.9 392.1 853.0C390.8 854.1 387.1 857.1 386.2 857.5C385.7 857.5 384.6 856.4 384.7 856.0" fill="none" stroke="#1e1e1e" stroke-width="1.3" stroke-linejoin="round" stroke-linecap="round"/>

<g class="leg">
<rect x="25" y="205.0" width="28" height="27.9" rx="1.5" fill="#b2b2b2"/>
<text x="76.3" y="229.0">aanwezig</text>
<rect x="25" y="241.0" width="28" height="27.9" rx="1.5" fill="#d4ebfa"/>
<text x="76.3" y="265.0">1 - 3 (28)</text>
<rect x="25" y="277.0" width="28" height="27.9" rx="1.5" fill="#b0e2fa"/>
<text x="76.3" y="301.0">4 - 10 (18)</text>
<rect x="25" y="313.0" width="28" height="27.9" rx="1.5" fill="#87c0de"/>
<text x="76.3" y="337.0">11 - 25 (12)</text>
<rect x="25" y="349.0" width="28" height="27.9" rx="1.5" fill="#99cb98"/>
<text x="76.3" y="373.0">26 - 50 (13)</text>
<rect x="25" y="385.0" width="28" height="27.9" rx="1.5" fill="#adbf38"/>
<text x="76.3" y="409.0">51 - 100 (17)</text>
<rect x="25" y="421.0" width="28" height="27.9" rx="1.5" fill="#e0ac00"/>
<text x="76.3" y="445.0">101 - 250 (24)</text>
<rect x="25" y="457.0" width="28" height="27.9" rx="1.5" fill="#ff6600"/>
<text x="76.3" y="481.0">251 - 500 (8)</text>
<rect x="25" y="493.0" width="28" height="27.9" rx="1.5" fill="#ff0000"/>
<text x="76.3" y="517.0">501 - 1000 (10)</text>
<rect x="25" y="529.0" width="28" height="27.9" rx="1.5" fill="#a00000"/>
<text x="76.3" y="553.0">&gt; 1000 (5)</text>
</g>
<g id="logo">
<path d="M41.5 1241.5 C44 1246 50 1255 53.5 1260 C56.5 1265 58.6 1271 59.3 1276 L58.5 1280.5 L52 1281.5 L44.5 1275.5 C41.5 1271 39 1266 38.2 1259 C37.8 1252 39.5 1246 41.5 1241.5 Z" fill="#4f4f4f"/>
<path d="M44.5 1275.5 L41.5 1282 L47.5 1280 L52 1281.5 Z" fill="#5c5c5c"/>
<path d="M50 1291 L60 1288 C63 1288.3 65 1289 66.5 1290 C69.5 1293 72.5 1298 74 1303.5 C71.5 1304.2 69.5 1304 68 1303.8 C64 1303 61.5 1302 59 1300.5 C56 1298.5 54 1296.5 52.5 1294.5 Z" fill="#4f4f4f"/>
<path d="M33 1288 L43 1282 L57.5 1279.5 L61 1287 L50 1291.5 L40 1291 Z" fill="#c6c6c6"/>
<path d="M58 1279 L64 1277.2 L68 1279.3 L64 1283.5 L61.3 1287.4 L58.3 1285 Z" fill="#151515"/>
<path d="M62.6 1280.2 L67.8 1279.3 L64.5 1284 Z" fill="#b5b5b5"/>
<path d="M34.5 1287.4 C24 1289.5 12 1292.5 2 1295.4 C12 1293.8 24 1292 33.5 1290.2 Z" fill="#6a6a6a"/>
<path d="M31 1290.6 C28.5 1296 21 1302 13 1306.4 C22 1303.5 33 1297.2 40 1291 Z" fill="#5c5c5c"/>
<path d="M39.5 1258 C46 1259 52 1263 57 1270 M44.8 1244 C45.5 1253 46 1262 47 1274 M47 1274 L56 1268 M55 1292 C60 1293 65 1297 68.5 1303 M60 1289 C62 1294 64 1299 66 1303" fill="none" stroke="#8a8a8a" stroke-width="0.35"/>
<path d="M43 1282 L50 1291 M50 1283 L45 1290.5 M50 1283 L56 1289" fill="none" stroke="#dcdcdc" stroke-width="0.35"/>
</g>
<text class="sovon" x="32.3" y="1326">Sovon</text>

<g class="foot">
<text x="133" y="1289.6">Aalscholver - Phalacrocorax carbo</text>
<text x="133" y="1309.7">Broed schatting 2013-2015</text>
<text x="133" y="1329.8">© Sovon Vogelonderzoek Nederland (Vogelatlas)</text>
</g>
</svg>
</body></html>
